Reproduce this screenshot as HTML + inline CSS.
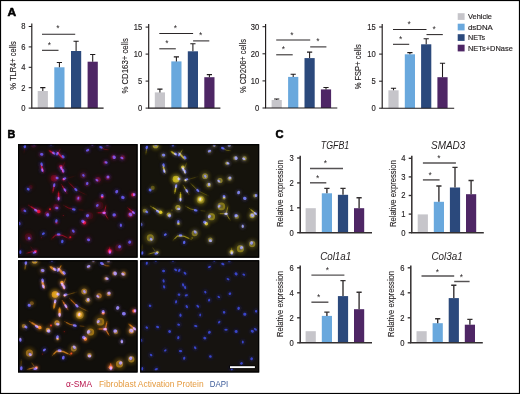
<!DOCTYPE html>
<html><head><meta charset="utf-8"><title>Figure</title>
<style>
html,body{margin:0;padding:0;background:#fff;}
svg{display:block;will-change:transform;opacity:0.999;font-family:"Liberation Sans",sans-serif;}
</style></head><body>
<svg width="520" height="394" viewBox="0 0 520 394">
<defs>
<filter id="bS" x="-10%" y="-10%" width="120%" height="120%"><feGaussianBlur stdDeviation="0.75"/></filter>
<filter id="bG" x="-10%" y="-10%" width="120%" height="120%"><feGaussianBlur stdDeviation="1.5"/></filter>
<filter id="bH" x="-10%" y="-10%" width="120%" height="120%"><feGaussianBlur stdDeviation="1.1"/></filter>
<filter id="bN" x="-10%" y="-10%" width="120%" height="120%"><feGaussianBlur stdDeviation="0.42"/></filter>
<clipPath id="cp"><rect x="0" y="0" width="119.0" height="112.5"/></clipPath>
</defs>
<rect x="0" y="0" width="520" height="394" fill="#fff"/>
<text transform="translate(7.4 15.7) scale(1.1 1)" font-size="10.9" font-weight="bold" fill="#000" stroke="#000" stroke-width=".55" stroke-linejoin="round">A</text>
<text transform="translate(7.5 138.1) scale(.98 1)" font-size="11" font-weight="bold" fill="#000" stroke="#000" stroke-width=".55" stroke-linejoin="round">B</text>
<text transform="translate(275.5 138.0) scale(1.02 1)" font-size="10.9" font-weight="bold" fill="#000" stroke="#000" stroke-width=".55" stroke-linejoin="round">C</text>
<rect x="37.7" y="91.0" width="10.2" height="17.1" fill="#c6c5ca"/>
<path d="M42.8 91.0V87.6M40.2 87.6H45.4" stroke="#1f1b1c" stroke-width="1.06" fill="none"/>
<rect x="54.3" y="67.3" width="10.2" height="40.8" fill="#69a8dd"/>
<path d="M59.4 67.3V62.5M56.8 62.5H62.0" stroke="#1f1b1c" stroke-width="1.06" fill="none"/>
<rect x="71.0" y="51.0" width="10.2" height="57.1" fill="#2b497c"/>
<path d="M76.1 51.0V41.2M73.5 41.2H78.7" stroke="#1f1b1c" stroke-width="1.06" fill="none"/>
<rect x="87.6" y="61.7" width="10.2" height="46.4" fill="#4e2665"/>
<path d="M92.7 61.7V54.5M90.1 54.5H95.3" stroke="#1f1b1c" stroke-width="1.06" fill="none"/>
<path d="M31.8 23.6V108.1H103.6" stroke="#1f1b1c" stroke-width="1.15" fill="none"/>
<path d="M28.7 26.5H31.8" stroke="#1f1b1c" stroke-width="1.03" fill="none"/>
<text transform="translate(25.4 29.4) scale(.92 1)" font-size="8.3" text-anchor="end" fill="#231f20" stroke="#231f20" stroke-width=".15">8</text>
<path d="M28.7 46.9H31.8" stroke="#1f1b1c" stroke-width="1.03" fill="none"/>
<text transform="translate(25.4 49.9) scale(.92 1)" font-size="8.3" text-anchor="end" fill="#231f20" stroke="#231f20" stroke-width=".15">6</text>
<path d="M28.7 67.3H31.8" stroke="#1f1b1c" stroke-width="1.03" fill="none"/>
<text transform="translate(25.4 70.2) scale(.92 1)" font-size="8.3" text-anchor="end" fill="#231f20" stroke="#231f20" stroke-width=".15">4</text>
<path d="M28.7 87.7H31.8" stroke="#1f1b1c" stroke-width="1.03" fill="none"/>
<text transform="translate(25.4 90.6) scale(.92 1)" font-size="8.3" text-anchor="end" fill="#231f20" stroke="#231f20" stroke-width=".15">2</text>
<path d="M28.7 108.1H31.8" stroke="#1f1b1c" stroke-width="1.03" fill="none"/>
<text transform="translate(25.4 111.0) scale(.92 1)" font-size="8.3" text-anchor="end" fill="#231f20" stroke="#231f20" stroke-width=".15">0</text>
<path d="M42.0 34.3H75.2" stroke="#2b2728" stroke-width="1.05" fill="none"/>
<text x="57.9" y="31.4" font-size="8.4" text-anchor="middle" fill="#231f20">*</text>
<path d="M42.0 50.3H58.5" stroke="#2b2728" stroke-width="1.05" fill="none"/>
<text x="49.3" y="48.0" font-size="8.4" text-anchor="middle" fill="#231f20">*</text>
<text transform="translate(16.1 65.5) rotate(-90)" font-size="9.5" text-anchor="middle" textLength="48.5" lengthAdjust="spacingAndGlyphs" fill="#231f20" stroke="#231f20" stroke-width=".12">% TLR4+ cells</text>
<rect x="154.8" y="92.4" width="10.2" height="15.7" fill="#c6c5ca"/>
<path d="M159.9 92.4V89.1M157.3 89.1H162.5" stroke="#1f1b1c" stroke-width="1.06" fill="none"/>
<rect x="171.3" y="61.4" width="10.2" height="46.7" fill="#69a8dd"/>
<path d="M176.4 61.4V56.9M173.8 56.9H179.0" stroke="#1f1b1c" stroke-width="1.06" fill="none"/>
<rect x="187.8" y="51.3" width="10.2" height="56.8" fill="#2b497c"/>
<path d="M192.9 51.3V43.7M190.3 43.7H195.5" stroke="#1f1b1c" stroke-width="1.06" fill="none"/>
<rect x="204.3" y="77.2" width="10.2" height="30.9" fill="#4e2665"/>
<path d="M209.4 77.2V74.6M206.8 74.6H212.0" stroke="#1f1b1c" stroke-width="1.06" fill="none"/>
<path d="M148.7 24.0V108.1H220.4" stroke="#1f1b1c" stroke-width="1.15" fill="none"/>
<path d="M145.6 27.1H148.7" stroke="#1f1b1c" stroke-width="1.03" fill="none"/>
<text transform="translate(142.3 30.0) scale(.92 1)" font-size="8.3" text-anchor="end" fill="#231f20" stroke="#231f20" stroke-width=".15">15</text>
<path d="M145.6 54.1H148.7" stroke="#1f1b1c" stroke-width="1.03" fill="none"/>
<text transform="translate(142.3 57.0) scale(.92 1)" font-size="8.3" text-anchor="end" fill="#231f20" stroke="#231f20" stroke-width=".15">10</text>
<path d="M145.6 81.1H148.7" stroke="#1f1b1c" stroke-width="1.03" fill="none"/>
<text transform="translate(142.3 84.0) scale(.92 1)" font-size="8.3" text-anchor="end" fill="#231f20" stroke="#231f20" stroke-width=".15">5</text>
<path d="M145.6 108.1H148.7" stroke="#1f1b1c" stroke-width="1.03" fill="none"/>
<text transform="translate(142.3 111.0) scale(.92 1)" font-size="8.3" text-anchor="end" fill="#231f20" stroke="#231f20" stroke-width=".15">0</text>
<path d="M159.3 33.5H193.1" stroke="#2b2728" stroke-width="1.05" fill="none"/>
<text x="175.3" y="31.1" font-size="8.4" text-anchor="middle" fill="#231f20">*</text>
<path d="M159.3 48.8H175.8" stroke="#2b2728" stroke-width="1.05" fill="none"/>
<text x="167.0" y="45.9" font-size="8.4" text-anchor="middle" fill="#231f20">*</text>
<path d="M193.1 40.9H209.3" stroke="#2b2728" stroke-width="1.05" fill="none"/>
<text x="200.7" y="38.2" font-size="8.4" text-anchor="middle" fill="#231f20">*</text>
<text transform="translate(128.4 65.8) rotate(-90)" font-size="9.5" text-anchor="middle" textLength="55.6" lengthAdjust="spacingAndGlyphs" fill="#231f20" stroke="#231f20" stroke-width=".12">% CD163+ cells</text>
<rect x="271.6" y="100.0" width="10.2" height="8.0" fill="#c6c5ca"/>
<path d="M276.7 100.0V99.0M274.1 99.0H279.3" stroke="#1f1b1c" stroke-width="1.06" fill="none"/>
<rect x="288.1" y="76.9" width="10.2" height="31.1" fill="#69a8dd"/>
<path d="M293.2 76.9V74.3M290.6 74.3H295.8" stroke="#1f1b1c" stroke-width="1.06" fill="none"/>
<rect x="304.5" y="58.1" width="10.2" height="49.9" fill="#2b497c"/>
<path d="M309.6 58.1V52.1M307.0 52.1H312.2" stroke="#1f1b1c" stroke-width="1.06" fill="none"/>
<rect x="320.9" y="89.4" width="10.2" height="18.6" fill="#4e2665"/>
<path d="M326.0 89.4V87.5M323.4 87.5H328.6" stroke="#1f1b1c" stroke-width="1.06" fill="none"/>
<path d="M265.6 24.0V108.0H337.3" stroke="#1f1b1c" stroke-width="1.15" fill="none"/>
<path d="M262.5 26.7H265.6" stroke="#1f1b1c" stroke-width="1.03" fill="none"/>
<text transform="translate(259.2 29.7) scale(.92 1)" font-size="8.3" text-anchor="end" fill="#231f20" stroke="#231f20" stroke-width=".15">30</text>
<path d="M262.5 53.8H265.6" stroke="#1f1b1c" stroke-width="1.03" fill="none"/>
<text transform="translate(259.2 56.8) scale(.92 1)" font-size="8.3" text-anchor="end" fill="#231f20" stroke="#231f20" stroke-width=".15">20</text>
<path d="M262.5 80.9H265.6" stroke="#1f1b1c" stroke-width="1.03" fill="none"/>
<text transform="translate(259.2 83.9) scale(.92 1)" font-size="8.3" text-anchor="end" fill="#231f20" stroke="#231f20" stroke-width=".15">10</text>
<path d="M262.5 108.0H265.6" stroke="#1f1b1c" stroke-width="1.03" fill="none"/>
<text transform="translate(259.2 111.0) scale(.92 1)" font-size="8.3" text-anchor="end" fill="#231f20" stroke="#231f20" stroke-width=".15">0</text>
<path d="M276.2 39.9H310.2" stroke="#2b2728" stroke-width="1.05" fill="none"/>
<text x="292.0" y="37.5" font-size="8.4" text-anchor="middle" fill="#231f20">*</text>
<path d="M276.2 54.8H292.7" stroke="#2b2728" stroke-width="1.05" fill="none"/>
<text x="283.5" y="52.2" font-size="8.4" text-anchor="middle" fill="#231f20">*</text>
<path d="M310.2 46.9H326.4" stroke="#2b2728" stroke-width="1.05" fill="none"/>
<text x="317.8" y="44.4" font-size="8.4" text-anchor="middle" fill="#231f20">*</text>
<text transform="translate(245.5 66.0) rotate(-90)" font-size="9.5" text-anchor="middle" textLength="54" lengthAdjust="spacingAndGlyphs" fill="#231f20" stroke="#231f20" stroke-width=".12">% CD206+ cells</text>
<rect x="388.4" y="90.3" width="10.2" height="17.9" fill="#c6c5ca"/>
<path d="M393.5 90.3V88.3M390.9 88.3H396.1" stroke="#1f1b1c" stroke-width="1.06" fill="none"/>
<rect x="404.8" y="54.3" width="10.2" height="53.9" fill="#69a8dd"/>
<path d="M409.9 54.3V52.6M407.3 52.6H412.5" stroke="#1f1b1c" stroke-width="1.06" fill="none"/>
<rect x="421.1" y="44.3" width="10.2" height="63.9" fill="#2b497c"/>
<path d="M426.2 44.3V38.8M423.6 38.8H428.8" stroke="#1f1b1c" stroke-width="1.06" fill="none"/>
<rect x="437.4" y="77.2" width="10.2" height="31.0" fill="#4e2665"/>
<path d="M442.5 77.2V63.3M439.9 63.3H445.1" stroke="#1f1b1c" stroke-width="1.06" fill="none"/>
<path d="M382.2 24.0V108.2H454.2" stroke="#1f1b1c" stroke-width="1.15" fill="none"/>
<path d="M379.1 27.0H382.2" stroke="#1f1b1c" stroke-width="1.03" fill="none"/>
<text transform="translate(375.8 30.0) scale(.92 1)" font-size="8.3" text-anchor="end" fill="#231f20" stroke="#231f20" stroke-width=".15">15</text>
<path d="M379.1 54.1H382.2" stroke="#1f1b1c" stroke-width="1.03" fill="none"/>
<text transform="translate(375.8 57.1) scale(.92 1)" font-size="8.3" text-anchor="end" fill="#231f20" stroke="#231f20" stroke-width=".15">10</text>
<path d="M379.1 81.2H382.2" stroke="#1f1b1c" stroke-width="1.03" fill="none"/>
<text transform="translate(375.8 84.1) scale(.92 1)" font-size="8.3" text-anchor="end" fill="#231f20" stroke="#231f20" stroke-width=".15">5</text>
<path d="M379.1 108.2H382.2" stroke="#1f1b1c" stroke-width="1.03" fill="none"/>
<text transform="translate(375.8 111.2) scale(.92 1)" font-size="8.3" text-anchor="end" fill="#231f20" stroke="#231f20" stroke-width=".15">0</text>
<path d="M393.0 29.4H426.5" stroke="#2b2728" stroke-width="1.05" fill="none"/>
<text x="409.2" y="27.2" font-size="8.4" text-anchor="middle" fill="#231f20">*</text>
<path d="M393.0 44.3H409.2" stroke="#2b2728" stroke-width="1.05" fill="none"/>
<text x="400.6" y="41.8" font-size="8.4" text-anchor="middle" fill="#231f20">*</text>
<path d="M426.5 34.6H442.8" stroke="#2b2728" stroke-width="1.05" fill="none"/>
<text x="434.1" y="31.8" font-size="8.4" text-anchor="middle" fill="#231f20">*</text>
<text transform="translate(361.2 66.8) rotate(-90)" font-size="9.5" text-anchor="middle" textLength="45" lengthAdjust="spacingAndGlyphs" fill="#231f20" stroke="#231f20" stroke-width=".12">% FSP+ cells</text>
<rect x="305.6" y="208.2" width="10.2" height="24.5" fill="#c6c5ca"/>
<rect x="321.8" y="193.3" width="10.2" height="39.4" fill="#69a8dd"/>
<path d="M326.9 193.3V188.4M324.3 188.4H329.5" stroke="#343031" stroke-width="1.38" fill="none"/>
<rect x="337.9" y="194.8" width="10.2" height="37.9" fill="#2b497c"/>
<path d="M343.0 194.8V188.4M340.4 188.4H345.6" stroke="#343031" stroke-width="1.38" fill="none"/>
<rect x="354.0" y="208.2" width="10.2" height="24.5" fill="#4e2665"/>
<path d="M359.1 208.2V197.7M356.5 197.7H361.7" stroke="#343031" stroke-width="1.38" fill="none"/>
<path d="M300.2 155.7V232.7H372.0" stroke="#343031" stroke-width="1.5" fill="none"/>
<path d="M297.1 158.0H300.2" stroke="#343031" stroke-width="1.35" fill="none"/>
<text transform="translate(293.8 160.9) scale(.92 1)" font-size="8.3" text-anchor="end" fill="#231f20" stroke="#231f20" stroke-width=".15">3</text>
<path d="M297.1 182.9H300.2" stroke="#343031" stroke-width="1.35" fill="none"/>
<text transform="translate(293.8 185.8) scale(.92 1)" font-size="8.3" text-anchor="end" fill="#231f20" stroke="#231f20" stroke-width=".15">2</text>
<path d="M297.1 207.8H300.2" stroke="#343031" stroke-width="1.35" fill="none"/>
<text transform="translate(293.8 210.7) scale(.92 1)" font-size="8.3" text-anchor="end" fill="#231f20" stroke="#231f20" stroke-width=".15">1</text>
<path d="M297.1 232.7H300.2" stroke="#343031" stroke-width="1.35" fill="none"/>
<text transform="translate(293.8 235.6) scale(.92 1)" font-size="8.3" text-anchor="end" fill="#231f20" stroke="#231f20" stroke-width=".15">0</text>
<path d="M310.0 168.5H343.0" stroke="#555253" stroke-width="1.45" fill="none"/>
<text x="325.4" y="166.2" font-size="8.4" text-anchor="middle" fill="#231f20">*</text>
<path d="M310.0 182.8H326.3" stroke="#555253" stroke-width="1.45" fill="none"/>
<text x="317.6" y="180.6" font-size="8.4" text-anchor="middle" fill="#231f20">*</text>
<text transform="translate(283.2 193.6) rotate(-90)" font-size="9.1" text-anchor="middle" textLength="67" lengthAdjust="spacingAndGlyphs" fill="#231f20" stroke="#231f20" stroke-width=".12">Relative expression</text>
<text x="335.0" y="149.1" font-size="10" font-style="italic" text-anchor="middle" textLength="28.5" lengthAdjust="spacingAndGlyphs" fill="#231f20">TGFB1</text>
<rect x="417.7" y="214.4" width="10.2" height="18.3" fill="#c6c5ca"/>
<rect x="433.8" y="201.8" width="10.2" height="30.9" fill="#69a8dd"/>
<path d="M438.9 201.8V186.0M436.3 186.0H441.5" stroke="#343031" stroke-width="1.38" fill="none"/>
<rect x="449.9" y="187.5" width="10.2" height="45.2" fill="#2b497c"/>
<path d="M455.0 187.5V167.4M452.4 167.4H457.6" stroke="#343031" stroke-width="1.38" fill="none"/>
<rect x="466.0" y="194.2" width="10.2" height="38.5" fill="#4e2665"/>
<path d="M471.1 194.2V180.5M468.5 180.5H473.7" stroke="#343031" stroke-width="1.38" fill="none"/>
<path d="M411.8 155.7V232.7H483.8" stroke="#343031" stroke-width="1.5" fill="none"/>
<path d="M408.7 158.3H411.8" stroke="#343031" stroke-width="1.35" fill="none"/>
<text transform="translate(405.4 161.2) scale(.92 1)" font-size="8.3" text-anchor="end" fill="#231f20" stroke="#231f20" stroke-width=".15">4</text>
<path d="M408.7 176.9H411.8" stroke="#343031" stroke-width="1.35" fill="none"/>
<text transform="translate(405.4 179.8) scale(.92 1)" font-size="8.3" text-anchor="end" fill="#231f20" stroke="#231f20" stroke-width=".15">3</text>
<path d="M408.7 195.5H411.8" stroke="#343031" stroke-width="1.35" fill="none"/>
<text transform="translate(405.4 198.4) scale(.92 1)" font-size="8.3" text-anchor="end" fill="#231f20" stroke="#231f20" stroke-width=".15">2</text>
<path d="M408.7 214.1H411.8" stroke="#343031" stroke-width="1.35" fill="none"/>
<text transform="translate(405.4 217.0) scale(.92 1)" font-size="8.3" text-anchor="end" fill="#231f20" stroke="#231f20" stroke-width=".15">1</text>
<path d="M408.7 232.7H411.8" stroke="#343031" stroke-width="1.35" fill="none"/>
<text transform="translate(405.4 235.6) scale(.92 1)" font-size="8.3" text-anchor="end" fill="#231f20" stroke="#231f20" stroke-width=".15">0</text>
<path d="M422.9 163.0H455.9" stroke="#555253" stroke-width="1.45" fill="none"/>
<text x="439.0" y="161.1" font-size="8.4" text-anchor="middle" fill="#231f20">*</text>
<path d="M422.9 179.9H439.6" stroke="#555253" stroke-width="1.45" fill="none"/>
<text x="430.2" y="177.7" font-size="8.4" text-anchor="middle" fill="#231f20">*</text>
<text transform="translate(395.8 193.6) rotate(-90)" font-size="9.1" text-anchor="middle" textLength="67" lengthAdjust="spacingAndGlyphs" fill="#231f20" stroke="#231f20" stroke-width=".12">Relative expression</text>
<text x="448.2" y="149.1" font-size="10" font-style="italic" text-anchor="middle" textLength="34.3" lengthAdjust="spacingAndGlyphs" fill="#231f20">SMAD3</text>
<rect x="305.6" y="331.2" width="10.2" height="11.6" fill="#c6c5ca"/>
<rect x="321.8" y="315.9" width="10.2" height="26.9" fill="#69a8dd"/>
<path d="M326.9 315.9V312.1M324.3 312.1H329.5" stroke="#343031" stroke-width="1.38" fill="none"/>
<rect x="337.9" y="296.1" width="10.2" height="46.7" fill="#2b497c"/>
<path d="M343.0 296.1V280.6M340.4 280.6H345.6" stroke="#343031" stroke-width="1.38" fill="none"/>
<rect x="354.0" y="309.2" width="10.2" height="33.6" fill="#4e2665"/>
<path d="M359.1 309.2V292.3M356.5 292.3H361.7" stroke="#343031" stroke-width="1.38" fill="none"/>
<path d="M300.2 265.4V342.8H372.0" stroke="#343031" stroke-width="1.5" fill="none"/>
<path d="M297.1 267.8H300.2" stroke="#343031" stroke-width="1.35" fill="none"/>
<text transform="translate(293.8 270.8) scale(.92 1)" font-size="8.3" text-anchor="end" fill="#231f20" stroke="#231f20" stroke-width=".15">6</text>
<path d="M297.1 292.8H300.2" stroke="#343031" stroke-width="1.35" fill="none"/>
<text transform="translate(293.8 295.8) scale(.92 1)" font-size="8.3" text-anchor="end" fill="#231f20" stroke="#231f20" stroke-width=".15">4</text>
<path d="M297.1 317.8H300.2" stroke="#343031" stroke-width="1.35" fill="none"/>
<text transform="translate(293.8 320.8) scale(.92 1)" font-size="8.3" text-anchor="end" fill="#231f20" stroke="#231f20" stroke-width=".15">2</text>
<path d="M297.1 342.8H300.2" stroke="#343031" stroke-width="1.35" fill="none"/>
<text transform="translate(293.8 345.8) scale(.92 1)" font-size="8.3" text-anchor="end" fill="#231f20" stroke="#231f20" stroke-width=".15">0</text>
<path d="M311.4 275.1H344.4" stroke="#555253" stroke-width="1.45" fill="none"/>
<text x="327.5" y="273.1" font-size="8.4" text-anchor="middle" fill="#231f20">*</text>
<path d="M311.4 302.2H328.4" stroke="#555253" stroke-width="1.45" fill="none"/>
<text x="318.7" y="299.9" font-size="8.4" text-anchor="middle" fill="#231f20">*</text>
<text transform="translate(283.2 304.0) rotate(-90)" font-size="9.1" text-anchor="middle" textLength="66" lengthAdjust="spacingAndGlyphs" fill="#231f20" stroke="#231f20" stroke-width=".12">Relative expression</text>
<text x="335.7" y="260.0" font-size="10" font-style="italic" text-anchor="middle" textLength="31.1" lengthAdjust="spacingAndGlyphs" fill="#231f20">Col1a1</text>
<rect x="416.5" y="331.2" width="10.2" height="11.6" fill="#c6c5ca"/>
<rect x="432.6" y="323.2" width="10.2" height="19.6" fill="#69a8dd"/>
<path d="M437.7 323.2V318.8M435.1 318.8H440.3" stroke="#343031" stroke-width="1.38" fill="none"/>
<rect x="448.7" y="298.1" width="10.2" height="44.7" fill="#2b497c"/>
<path d="M453.8 298.1V285.3M451.2 285.3H456.4" stroke="#343031" stroke-width="1.38" fill="none"/>
<rect x="464.8" y="324.7" width="10.2" height="18.1" fill="#4e2665"/>
<path d="M469.9 324.7V319.4M467.3 319.4H472.5" stroke="#343031" stroke-width="1.38" fill="none"/>
<path d="M410.8 265.4V342.8H482.8" stroke="#343031" stroke-width="1.5" fill="none"/>
<path d="M407.7 267.8H410.8" stroke="#343031" stroke-width="1.35" fill="none"/>
<text transform="translate(404.4 270.8) scale(.92 1)" font-size="8.3" text-anchor="end" fill="#231f20" stroke="#231f20" stroke-width=".15">6</text>
<path d="M407.7 292.8H410.8" stroke="#343031" stroke-width="1.35" fill="none"/>
<text transform="translate(404.4 295.8) scale(.92 1)" font-size="8.3" text-anchor="end" fill="#231f20" stroke="#231f20" stroke-width=".15">4</text>
<path d="M407.7 317.8H410.8" stroke="#343031" stroke-width="1.35" fill="none"/>
<text transform="translate(404.4 320.8) scale(.92 1)" font-size="8.3" text-anchor="end" fill="#231f20" stroke="#231f20" stroke-width=".15">2</text>
<path d="M407.7 342.8H410.8" stroke="#343031" stroke-width="1.35" fill="none"/>
<text transform="translate(404.4 345.8) scale(.92 1)" font-size="8.3" text-anchor="end" fill="#231f20" stroke="#231f20" stroke-width=".15">0</text>
<path d="M421.5 275.9H454.2" stroke="#555253" stroke-width="1.45" fill="none"/>
<text x="437.5" y="274.6" font-size="8.4" text-anchor="middle" fill="#231f20">*</text>
<path d="M454.2 281.5H469.6" stroke="#555253" stroke-width="1.45" fill="none"/>
<text x="461.5" y="279.6" font-size="8.4" text-anchor="middle" fill="#231f20">*</text>
<text transform="translate(394.0 304.0) rotate(-90)" font-size="9.1" text-anchor="middle" textLength="66" lengthAdjust="spacingAndGlyphs" fill="#231f20" stroke="#231f20" stroke-width=".12">Relative expression</text>
<text x="447.1" y="260.0" font-size="10" font-style="italic" text-anchor="middle" textLength="31.2" lengthAdjust="spacingAndGlyphs" fill="#231f20">Col3a1</text>
<rect x="457.7" y="13.2" width="6.9" height="6.7" fill="#c6c5ca"/>
<text x="468" y="19.2" font-size="8" textLength="24" lengthAdjust="spacingAndGlyphs" fill="#231f20" stroke="#231f20" stroke-width=".18">Vehicle</text>
<rect x="457.7" y="23.7" width="6.9" height="6.7" fill="#69a8dd"/>
<text x="468" y="29.7" font-size="8" textLength="24.8" lengthAdjust="spacingAndGlyphs" fill="#231f20" stroke="#231f20" stroke-width=".18">dsDNA</text>
<rect x="457.7" y="34.2" width="6.9" height="6.7" fill="#2b497c"/>
<text x="468" y="40.2" font-size="8" textLength="17.2" lengthAdjust="spacingAndGlyphs" fill="#231f20" stroke="#231f20" stroke-width=".18">NETs</text>
<rect x="457.7" y="44.7" width="6.9" height="6.7" fill="#4e2665"/>
<text x="468" y="50.7" font-size="8" textLength="44.8" lengthAdjust="spacingAndGlyphs" fill="#231f20" stroke="#231f20" stroke-width=".18">NETs+DNase</text>
<clipPath id="c1"><rect x="0" y="0" width="119.6" height="113.6"/></clipPath><g transform="translate(18.0 144.1)"><rect x="0" y="0" width="119.6" height="113.6" fill="#15100e"/><g clip-path="url(#c1)"><g transform="translate(0.1 -0.6)"><g filter="url(#bH)"><circle cx="6.8" cy="3.0" r="3.1" fill="#2a2a9a" fill-opacity="0.32"/><circle cx="15.6" cy="0.5" r="3.1" fill="#2a2a9a" fill-opacity="0.32"/><circle cx="33.0" cy="0.5" r="3.1" fill="#2a2a9a" fill-opacity="0.32"/><circle cx="23.6" cy="10.8" r="3.1" fill="#2a2a9a" fill-opacity="0.32"/><circle cx="35.7" cy="9.6" r="3.1" fill="#2a2a9a" fill-opacity="0.32"/><circle cx="39.2" cy="10.2" r="3.1" fill="#2a2a9a" fill-opacity="0.32"/><circle cx="45.0" cy="13.1" r="3.1" fill="#2a2a9a" fill-opacity="0.32"/><circle cx="23.6" cy="20.8" r="3.1" fill="#2a2a9a" fill-opacity="0.32"/><circle cx="24.1" cy="26.7" r="3.1" fill="#2a2a9a" fill-opacity="0.32"/><circle cx="43.1" cy="24.7" r="3.1" fill="#2a2a9a" fill-opacity="0.32"/><circle cx="45.1" cy="27.3" r="3.1" fill="#2a2a9a" fill-opacity="0.32"/><circle cx="39.0" cy="34.5" r="3.1" fill="#2a2a9a" fill-opacity="0.32"/><circle cx="46.4" cy="35.1" r="3.1" fill="#2a2a9a" fill-opacity="0.32"/><circle cx="36.1" cy="41.7" r="3.1" fill="#2a2a9a" fill-opacity="0.32"/><circle cx="10.1" cy="45.6" r="3.1" fill="#2a2a9a" fill-opacity="0.32"/><circle cx="46.8" cy="46.4" r="3.1" fill="#2a2a9a" fill-opacity="0.32"/><circle cx="57.8" cy="46.1" r="3.1" fill="#2a2a9a" fill-opacity="0.32"/><circle cx="40.5" cy="55.1" r="3.1" fill="#2a2a9a" fill-opacity="0.32"/><circle cx="60.2" cy="54.8" r="3.1" fill="#2a2a9a" fill-opacity="0.32"/><circle cx="74.2" cy="0.5" r="3.1" fill="#2a2a9a" fill-opacity="0.32"/><circle cx="89.3" cy="1.0" r="3.1" fill="#2a2a9a" fill-opacity="0.32"/><circle cx="82.8" cy="3.8" r="3.1" fill="#2a2a9a" fill-opacity="0.32"/><circle cx="69.5" cy="6.7" r="3.1" fill="#2a2a9a" fill-opacity="0.32"/><circle cx="96.1" cy="13.7" r="3.1" fill="#2a2a9a" fill-opacity="0.32"/><circle cx="103.8" cy="14.4" r="3.1" fill="#2a2a9a" fill-opacity="0.32"/><circle cx="88.0" cy="18.9" r="3.1" fill="#2a2a9a" fill-opacity="0.32"/><circle cx="65.3" cy="31.9" r="3.1" fill="#2a2a9a" fill-opacity="0.32"/><circle cx="89.9" cy="33.5" r="3.1" fill="#2a2a9a" fill-opacity="0.32"/><circle cx="78.8" cy="36.7" r="3.1" fill="#2a2a9a" fill-opacity="0.32"/><circle cx="69.1" cy="40.0" r="3.1" fill="#2a2a9a" fill-opacity="0.32"/><circle cx="98.6" cy="48.2" r="3.1" fill="#2a2a9a" fill-opacity="0.32"/><circle cx="84.1" cy="52.1" r="3.1" fill="#2a2a9a" fill-opacity="0.32"/><circle cx="116.1" cy="51.1" r="3.1" fill="#2a2a9a" fill-opacity="0.32"/><circle cx="104.8" cy="54.0" r="3.1" fill="#2a2a9a" fill-opacity="0.32"/><circle cx="38.7" cy="64.5" r="3.1" fill="#2a2a9a" fill-opacity="0.32"/><circle cx="6.8" cy="67.4" r="3.1" fill="#2a2a9a" fill-opacity="0.32"/><circle cx="17.6" cy="66.8" r="3.1" fill="#2a2a9a" fill-opacity="0.32"/><circle cx="55.7" cy="65.9" r="3.1" fill="#2a2a9a" fill-opacity="0.32"/><circle cx="29.6" cy="71.3" r="3.1" fill="#2a2a9a" fill-opacity="0.32"/><circle cx="38.3" cy="77.5" r="3.1" fill="#2a2a9a" fill-opacity="0.32"/><circle cx="1.2" cy="80.1" r="3.1" fill="#2a2a9a" fill-opacity="0.32"/><circle cx="55.2" cy="87.6" r="3.1" fill="#2a2a9a" fill-opacity="0.32"/><circle cx="25.3" cy="90.2" r="3.1" fill="#2a2a9a" fill-opacity="0.32"/><circle cx="40.5" cy="90.9" r="3.1" fill="#2a2a9a" fill-opacity="0.32"/><circle cx="11.1" cy="94.8" r="3.1" fill="#2a2a9a" fill-opacity="0.32"/><circle cx="44.2" cy="98.0" r="3.1" fill="#2a2a9a" fill-opacity="0.32"/><circle cx="2.2" cy="108.6" r="3.1" fill="#2a2a9a" fill-opacity="0.32"/><circle cx="16.3" cy="109.0" r="3.1" fill="#2a2a9a" fill-opacity="0.32"/><circle cx="79.2" cy="61.9" r="3.1" fill="#2a2a9a" fill-opacity="0.32"/><circle cx="86.0" cy="69.5" r="3.1" fill="#2a2a9a" fill-opacity="0.32"/><circle cx="96.1" cy="71.3" r="3.1" fill="#2a2a9a" fill-opacity="0.32"/><circle cx="112.3" cy="71.0" r="3.1" fill="#2a2a9a" fill-opacity="0.32"/><circle cx="115.4" cy="69.1" r="3.1" fill="#2a2a9a" fill-opacity="0.32"/><circle cx="69.4" cy="72.1" r="3.1" fill="#2a2a9a" fill-opacity="0.32"/><circle cx="64.8" cy="77.9" r="3.1" fill="#2a2a9a" fill-opacity="0.32"/><circle cx="102.8" cy="81.8" r="3.1" fill="#2a2a9a" fill-opacity="0.32"/><circle cx="70.4" cy="96.3" r="3.1" fill="#2a2a9a" fill-opacity="0.32"/><circle cx="111.6" cy="98.6" r="3.1" fill="#2a2a9a" fill-opacity="0.32"/><circle cx="101.5" cy="103.2" r="3.1" fill="#2a2a9a" fill-opacity="0.32"/><circle cx="91.8" cy="108.6" r="3.1" fill="#2a2a9a" fill-opacity="0.32"/></g><g filter="url(#bN)"><ellipse cx="6.8" cy="3.0" rx="1.86" ry="1.16" transform="rotate(99 6.8 3.0)" fill="#4e52e0" fill-opacity="1.0"/><ellipse cx="15.6" cy="0.5" rx="1.60" ry="1.16" transform="rotate(27 15.6 0.5)" fill="#4e52e0" fill-opacity="1.0"/><ellipse cx="33.0" cy="0.5" rx="1.49" ry="1.27" transform="rotate(117 33.0 0.5)" fill="#4e52e0" fill-opacity="1.0"/><ellipse cx="23.6" cy="10.8" rx="1.68" ry="1.37" transform="rotate(13 23.6 10.8)" fill="#4e52e0" fill-opacity="1.0"/><ellipse cx="35.7" cy="9.6" rx="1.86" ry="1.16" transform="rotate(36 35.7 9.6)" fill="#4e52e0" fill-opacity="1.0"/><ellipse cx="39.2" cy="10.2" rx="1.86" ry="1.16" transform="rotate(120 39.2 10.2)" fill="#4e52e0" fill-opacity="1.0"/><ellipse cx="45.0" cy="13.1" rx="1.86" ry="1.16" transform="rotate(48 45.0 13.1)" fill="#4e52e0" fill-opacity="1.0"/><ellipse cx="23.6" cy="20.8" rx="1.86" ry="1.16" transform="rotate(72 23.6 20.8)" fill="#4e52e0" fill-opacity="1.0"/><ellipse cx="24.1" cy="26.7" rx="1.86" ry="1.16" transform="rotate(72 24.1 26.7)" fill="#4e52e0" fill-opacity="1.0"/><ellipse cx="43.1" cy="24.7" rx="1.86" ry="1.16" transform="rotate(73 43.1 24.7)" fill="#4e52e0" fill-opacity="1.0"/><ellipse cx="45.1" cy="27.3" rx="1.86" ry="1.16" transform="rotate(73 45.1 27.3)" fill="#4e52e0" fill-opacity="1.0"/><ellipse cx="39.0" cy="34.5" rx="1.51" ry="1.29" transform="rotate(16 39.0 34.5)" fill="#4e52e0" fill-opacity="1.0"/><ellipse cx="46.4" cy="35.1" rx="1.86" ry="1.16" transform="rotate(-16 46.4 35.1)" fill="#4e52e0" fill-opacity="1.0"/><ellipse cx="36.1" cy="41.7" rx="1.86" ry="1.16" transform="rotate(100 36.1 41.7)" fill="#4e52e0" fill-opacity="1.0"/><ellipse cx="10.1" cy="45.6" rx="1.47" ry="1.31" transform="rotate(22 10.1 45.6)" fill="#4e52e0" fill-opacity="1.0"/><ellipse cx="46.8" cy="46.4" rx="1.86" ry="1.16" transform="rotate(58 46.8 46.4)" fill="#4e52e0" fill-opacity="1.0"/><ellipse cx="57.8" cy="46.1" rx="1.86" ry="1.16" transform="rotate(45 57.8 46.1)" fill="#4e52e0" fill-opacity="1.0"/><ellipse cx="40.5" cy="55.1" rx="1.86" ry="1.16" transform="rotate(90 40.5 55.1)" fill="#4e52e0" fill-opacity="1.0"/><ellipse cx="60.2" cy="54.8" rx="1.55" ry="0.97" transform="rotate(104 60.2 54.8)" fill="#4e52e0" fill-opacity="1.0"/><ellipse cx="74.2" cy="0.5" rx="1.58" ry="1.22" transform="rotate(71 74.2 0.5)" fill="#4e52e0" fill-opacity="1.0"/><ellipse cx="89.3" cy="1.0" rx="1.59" ry="1.07" transform="rotate(176 89.3 1.0)" fill="#4e52e0" fill-opacity="1.0"/><ellipse cx="82.8" cy="3.8" rx="1.86" ry="1.16" transform="rotate(26 82.8 3.8)" fill="#4e52e0" fill-opacity="1.0"/><ellipse cx="69.5" cy="6.7" rx="1.76" ry="1.13" transform="rotate(155 69.5 6.7)" fill="#4e52e0" fill-opacity="1.0"/><ellipse cx="96.1" cy="13.7" rx="1.81" ry="1.58" transform="rotate(52 96.1 13.7)" fill="#4e52e0" fill-opacity="1.0"/><ellipse cx="103.8" cy="14.4" rx="1.62" ry="1.08" transform="rotate(26 103.8 14.4)" fill="#4e52e0" fill-opacity="1.0"/><ellipse cx="88.0" cy="18.9" rx="1.63" ry="1.14" transform="rotate(21 88.0 18.9)" fill="#4e52e0" fill-opacity="1.0"/><ellipse cx="65.3" cy="31.9" rx="1.49" ry="1.11" transform="rotate(56 65.3 31.9)" fill="#4e52e0" fill-opacity="1.0"/><ellipse cx="89.9" cy="33.5" rx="1.49" ry="1.36" transform="rotate(147 89.9 33.5)" fill="#4e52e0" fill-opacity="1.0"/><ellipse cx="78.8" cy="36.7" rx="1.58" ry="1.02" transform="rotate(33 78.8 36.7)" fill="#4e52e0" fill-opacity="1.0"/><ellipse cx="69.1" cy="40.0" rx="1.55" ry="1.19" transform="rotate(105 69.1 40.0)" fill="#4e52e0" fill-opacity="1.0"/><ellipse cx="98.6" cy="48.2" rx="1.75" ry="1.41" transform="rotate(115 98.6 48.2)" fill="#4e52e0" fill-opacity="1.0"/><ellipse cx="84.1" cy="52.1" rx="1.52" ry="1.38" transform="rotate(67 84.1 52.1)" fill="#4e52e0" fill-opacity="1.0"/><ellipse cx="116.1" cy="51.1" rx="1.47" ry="1.31" transform="rotate(99 116.1 51.1)" fill="#4e52e0" fill-opacity="1.0"/><ellipse cx="104.8" cy="54.0" rx="1.80" ry="1.63" transform="rotate(11 104.8 54.0)" fill="#4e52e0" fill-opacity="1.0"/><ellipse cx="38.7" cy="64.5" rx="1.65" ry="1.17" transform="rotate(11 38.7 64.5)" fill="#4e52e0" fill-opacity="1.0"/><ellipse cx="6.8" cy="67.4" rx="1.51" ry="1.14" transform="rotate(37 6.8 67.4)" fill="#4e52e0" fill-opacity="1.0"/><ellipse cx="17.6" cy="66.8" rx="1.86" ry="1.16" transform="rotate(31 17.6 66.8)" fill="#4e52e0" fill-opacity="1.0"/><ellipse cx="55.7" cy="65.9" rx="1.86" ry="1.16" transform="rotate(12 55.7 65.9)" fill="#4e52e0" fill-opacity="1.0"/><ellipse cx="29.6" cy="71.3" rx="1.65" ry="1.54" transform="rotate(57 29.6 71.3)" fill="#4e52e0" fill-opacity="1.0"/><ellipse cx="38.3" cy="77.5" rx="1.81" ry="1.21" transform="rotate(105 38.3 77.5)" fill="#4e52e0" fill-opacity="1.0"/><ellipse cx="1.2" cy="80.1" rx="1.77" ry="1.20" transform="rotate(82 1.2 80.1)" fill="#4e52e0" fill-opacity="1.0"/><ellipse cx="55.2" cy="87.6" rx="1.71" ry="1.19" transform="rotate(54 55.2 87.6)" fill="#4e52e0" fill-opacity="1.0"/><ellipse cx="25.3" cy="90.2" rx="1.55" ry="1.08" transform="rotate(143 25.3 90.2)" fill="#4e52e0" fill-opacity="1.0"/><ellipse cx="40.5" cy="90.9" rx="1.86" ry="1.16" transform="rotate(3 40.5 90.9)" fill="#4e52e0" fill-opacity="1.0"/><ellipse cx="11.1" cy="94.8" rx="1.52" ry="1.24" transform="rotate(44 11.1 94.8)" fill="#4e52e0" fill-opacity="1.0"/><ellipse cx="44.2" cy="98.0" rx="1.73" ry="1.22" transform="rotate(103 44.2 98.0)" fill="#4e52e0" fill-opacity="1.0"/><ellipse cx="2.2" cy="108.6" rx="1.86" ry="1.16" transform="rotate(93 2.2 108.6)" fill="#4e52e0" fill-opacity="1.0"/><ellipse cx="16.3" cy="109.0" rx="1.86" ry="1.16" transform="rotate(-15 16.3 109.0)" fill="#4e52e0" fill-opacity="1.0"/><ellipse cx="79.2" cy="61.9" rx="1.58" ry="1.17" transform="rotate(131 79.2 61.9)" fill="#4e52e0" fill-opacity="1.0"/><ellipse cx="86.0" cy="69.5" rx="1.86" ry="1.16" transform="rotate(0 86.0 69.5)" fill="#4e52e0" fill-opacity="1.0"/><ellipse cx="96.1" cy="71.3" rx="1.75" ry="1.63" transform="rotate(176 96.1 71.3)" fill="#4e52e0" fill-opacity="1.0"/><ellipse cx="112.3" cy="71.0" rx="1.81" ry="1.53" transform="rotate(21 112.3 71.0)" fill="#4e52e0" fill-opacity="1.0"/><ellipse cx="115.4" cy="69.1" rx="1.86" ry="1.16" transform="rotate(40 115.4 69.1)" fill="#4e52e0" fill-opacity="1.0"/><ellipse cx="69.4" cy="72.1" rx="1.75" ry="1.44" transform="rotate(136 69.4 72.1)" fill="#4e52e0" fill-opacity="1.0"/><ellipse cx="64.8" cy="77.9" rx="1.75" ry="1.48" transform="rotate(27 64.8 77.9)" fill="#4e52e0" fill-opacity="1.0"/><ellipse cx="102.8" cy="81.8" rx="1.72" ry="1.10" transform="rotate(88 102.8 81.8)" fill="#4e52e0" fill-opacity="1.0"/><ellipse cx="70.4" cy="96.3" rx="1.54" ry="1.41" transform="rotate(7 70.4 96.3)" fill="#4e52e0" fill-opacity="1.0"/><ellipse cx="111.6" cy="98.6" rx="1.64" ry="1.44" transform="rotate(120 111.6 98.6)" fill="#4e52e0" fill-opacity="1.0"/><ellipse cx="101.5" cy="103.2" rx="1.58" ry="1.44" transform="rotate(138 101.5 103.2)" fill="#4e52e0" fill-opacity="1.0"/><ellipse cx="91.8" cy="108.6" rx="1.86" ry="1.16" transform="rotate(90 91.8 108.6)" fill="#4e52e0" fill-opacity="1.0"/></g><g style="mix-blend-mode:screen"><g filter="url(#bG)"><path d="M6.8 3.4L5.8 9.9" stroke="#e8122c" stroke-opacity="0.02" stroke-width="1.18" stroke-linecap="round" stroke-linejoin="round" fill="none"/><path d="M6.6 4.8L6.0 8.5" stroke="#e8122c" stroke-opacity="0.03" stroke-width="1.97" stroke-linecap="round" fill="none"/><circle cx="15.6" cy="1.0" r="4.93" fill="#e8122c" fill-opacity="0.05"/><circle cx="23.1" cy="11.1" r="3.94" fill="#e8122c" fill-opacity="0.05"/><path d="M31.1 7.0L36.1 10.6" stroke="#e8122c" stroke-opacity="0.15" stroke-width="1.77" stroke-linecap="round" stroke-linejoin="round" fill="none"/><path d="M32.2 7.8L35.0 9.8" stroke="#e8122c" stroke-opacity="0.20" stroke-width="2.96" stroke-linecap="round" fill="none"/><path d="M38.7 8.2L44.8 15.0" stroke="#e8122c" stroke-opacity="0.17" stroke-width="1.77" stroke-linecap="round" stroke-linejoin="round" fill="none"/><path d="M40.1 9.7L43.5 13.5" stroke="#e8122c" stroke-opacity="0.21" stroke-width="2.96" stroke-linecap="round" fill="none"/><path d="M42.2 5.6L39.8 9.9" stroke="#e8122c" stroke-opacity="0.11" stroke-width="0.89" stroke-linecap="round" stroke-linejoin="round" fill="none"/><path d="M41.7 6.5L40.3 9.0" stroke="#e8122c" stroke-opacity="0.14" stroke-width="1.48" stroke-linecap="round" fill="none"/><path d="M22.8 21.2L25.3 28.7" stroke="#e8122c" stroke-opacity="0.19" stroke-width="1.63" stroke-linecap="round" stroke-linejoin="round" fill="none"/><path d="M23.4 22.9L24.8 27.1" stroke="#e8122c" stroke-opacity="0.24" stroke-width="2.71" stroke-linecap="round" fill="none"/><circle cx="42.8" cy="22.9" r="2.96" fill="#e8122c" fill-opacity="0.24"/><path d="M43.4 23.7L45.1 29.4" stroke="#e8122c" stroke-opacity="0.19" stroke-width="1.63" stroke-linecap="round" stroke-linejoin="round" fill="none"/><path d="M43.8 24.9L44.7 28.2" stroke="#e8122c" stroke-opacity="0.24" stroke-width="2.71" stroke-linecap="round" fill="none"/><path d="M44.8 23.7L46.6 18.3" stroke="#e8122c" stroke-opacity="0.09" stroke-width="0.59" stroke-linecap="round" stroke-linejoin="round" fill="none"/><path d="M45.2 22.5L46.2 19.5" stroke="#e8122c" stroke-opacity="0.11" stroke-width="0.99" stroke-linecap="round" fill="none"/><circle cx="36.0" cy="34.8" r="5.67" fill="#e8122c" fill-opacity="0.13"/><circle cx="36.0" cy="34.8" r="3.45" fill="#e8122c" fill-opacity="0.04"/><path d="M45.5 35.9L57.8 32.3" stroke="#e8122c" stroke-opacity="0.04" stroke-width="0.59" stroke-linecap="round" stroke-linejoin="round" fill="none"/><path d="M48.2 35.1L55.1 33.1" stroke="#e8122c" stroke-opacity="0.06" stroke-width="0.99" stroke-linecap="round" fill="none"/><circle cx="45.5" cy="35.9" r="1.97" fill="#e8122c" fill-opacity="0.36"/><path d="M36.1 41.0L34.7 49.0" stroke="#e8122c" stroke-opacity="0.13" stroke-width="1.48" stroke-linecap="round" stroke-linejoin="round" fill="none"/><path d="M35.8 42.8L35.0 47.2" stroke="#e8122c" stroke-opacity="0.17" stroke-width="2.46" stroke-linecap="round" fill="none"/><circle cx="12.7" cy="43.5" r="3.45" fill="#e8122c" fill-opacity="0.06"/><path d="M43.1 40.7L48.9 50.1" stroke="#e8122c" stroke-opacity="0.15" stroke-width="1.18" stroke-linecap="round" stroke-linejoin="round" fill="none"/><path d="M44.4 42.8L47.6 48.0" stroke="#e8122c" stroke-opacity="0.20" stroke-width="1.97" stroke-linecap="round" fill="none"/><path d="M50.3 38.5L58.6 46.8" stroke="#e8122c" stroke-opacity="0.13" stroke-width="0.89" stroke-linecap="round" stroke-linejoin="round" fill="none"/><path d="M52.1 40.4L56.7 45.0" stroke="#e8122c" stroke-opacity="0.17" stroke-width="1.48" stroke-linecap="round" fill="none"/><path d="M57.8 46.1L63.6 49.2L68.8 51.6" stroke="#e8122c" stroke-opacity="0.07" stroke-width="0.59" stroke-linecap="round" stroke-linejoin="round" fill="none"/><path d="M60.1 47.3L63.6 49.2L66.7 50.6" stroke="#e8122c" stroke-opacity="0.08" stroke-width="0.99" stroke-linecap="round" stroke-linejoin="round" fill="none"/><path d="M40.5 48.2L40.5 56.8" stroke="#e8122c" stroke-opacity="0.18" stroke-width="1.77" stroke-linecap="round" stroke-linejoin="round" fill="none"/><path d="M40.5 50.1L40.5 54.9" stroke="#e8122c" stroke-opacity="0.22" stroke-width="2.96" stroke-linecap="round" fill="none"/><circle cx="60.7" cy="55.3" r="6.65" fill="#e8122c" fill-opacity="0.02"/><circle cx="60.4" cy="55.0" r="4.19" fill="#e8122c" fill-opacity="0.12"/><circle cx="74.2" cy="1.0" r="2.96" fill="#e8122c" fill-opacity="0.04"/><circle cx="89.3" cy="1.2" r="2.96" fill="#e8122c" fill-opacity="0.06"/><path d="M83.1 4.1L86.7 5.9L90.6 6.3" stroke="#e8122c" stroke-opacity="0.09" stroke-width="0.89" stroke-linecap="round" stroke-linejoin="round" fill="none"/><path d="M84.6 4.8L86.7 5.9L89.1 6.1" stroke="#e8122c" stroke-opacity="0.11" stroke-width="1.48" stroke-linecap="round" stroke-linejoin="round" fill="none"/><circle cx="69.5" cy="7.0" r="3.20" fill="#e8122c" fill-opacity="0.04"/><circle cx="95.3" cy="13.7" r="3.70" fill="#e8122c" fill-opacity="0.12"/><circle cx="104.5" cy="14.0" r="3.70" fill="#e8122c" fill-opacity="0.12"/><circle cx="87.0" cy="18.9" r="2.96" fill="#e8122c" fill-opacity="0.12"/><circle cx="65.1" cy="31.8" r="4.93" fill="#e8122c" fill-opacity="0.06"/><circle cx="89.6" cy="34.2" r="3.70" fill="#e8122c" fill-opacity="0.12"/><circle cx="80.0" cy="36.1" r="4.43" fill="#e8122c" fill-opacity="0.12"/><circle cx="68.7" cy="40.6" r="3.94" fill="#e8122c" fill-opacity="0.06"/><circle cx="98.6" cy="48.2" r="2.96" fill="#e8122c" fill-opacity="0.04"/><circle cx="84.1" cy="53.6" r="2.46" fill="#e8122c" fill-opacity="0.32"/><circle cx="114.9" cy="51.3" r="2.96" fill="#e8122c" fill-opacity="0.32"/><circle cx="104.8" cy="54.0" r="2.71" fill="#e8122c" fill-opacity="0.04"/><circle cx="37.9" cy="63.2" r="4.43" fill="#e8122c" fill-opacity="0.10"/><circle cx="4.7" cy="66.4" r="3.45" fill="#e8122c" fill-opacity="0.06"/><path d="M10.3 61.7L17.6 66.1L22.1 68.7" stroke="#e8122c" stroke-opacity="0.15" stroke-width="1.33" stroke-linecap="round" stroke-linejoin="round" fill="none"/><path d="M13.2 63.4L17.6 66.1L20.3 67.7" stroke="#e8122c" stroke-opacity="0.20" stroke-width="2.22" stroke-linecap="round" stroke-linejoin="round" fill="none"/><circle cx="20.6" cy="67.9" r="2.96" fill="#e8122c" fill-opacity="0.38"/><path d="M45.3 61.7L50.7 64.6L56.2 65.8" stroke="#e8122c" stroke-opacity="0.11" stroke-width="0.89" stroke-linecap="round" stroke-linejoin="round" fill="none"/><path d="M47.5 62.9L50.7 64.6L54.0 65.3" stroke="#e8122c" stroke-opacity="0.14" stroke-width="1.48" stroke-linecap="round" stroke-linejoin="round" fill="none"/><circle cx="28.8" cy="70.2" r="3.70" fill="#e8122c" fill-opacity="0.12"/><circle cx="31.9" cy="65.8" r="1.72" fill="#e8122c" fill-opacity="0.38"/><circle cx="38.5" cy="79.3" r="2.22" fill="#e8122c" fill-opacity="0.16"/><circle cx="0.7" cy="79.3" r="2.46" fill="#e8122c" fill-opacity="0.04"/><circle cx="54.7" cy="88.9" r="5.17" fill="#e8122c" fill-opacity="0.04"/><path d="M33.1 95.8L37.5 91.5L44.1 91.8L51.5 95.2" stroke="#e8122c" stroke-opacity="0.13" stroke-width="1.03" stroke-linecap="round" stroke-linejoin="round" fill="none"/><path d="M34.9 94.1L37.5 91.5L44.1 91.8L48.5 93.9" stroke="#e8122c" stroke-opacity="0.17" stroke-width="1.72" stroke-linecap="round" stroke-linejoin="round" fill="none"/><circle cx="52.2" cy="93.7" r="1.72" fill="#e8122c" fill-opacity="0.38"/><circle cx="10.3" cy="93.4" r="6.16" fill="#e8122c" fill-opacity="0.08"/><path d="M2.2 99.9L1.8 107.3" stroke="#e8122c" stroke-opacity="0.02" stroke-width="0.74" stroke-linecap="round" stroke-linejoin="round" fill="none"/><path d="M2.1 101.5L1.9 105.7" stroke="#e8122c" stroke-opacity="0.03" stroke-width="1.23" stroke-linecap="round" fill="none"/><path d="M8.1 109.8L16.2 107.6" stroke="#e8122c" stroke-opacity="0.13" stroke-width="0.89" stroke-linecap="round" stroke-linejoin="round" fill="none"/><path d="M9.9 109.3L14.4 108.1" stroke="#e8122c" stroke-opacity="0.17" stroke-width="1.48" stroke-linecap="round" fill="none"/><path d="M12.5 102.9L15.4 107.3" stroke="#e8122c" stroke-opacity="0.07" stroke-width="0.59" stroke-linecap="round" stroke-linejoin="round" fill="none"/><path d="M13.1 103.8L14.8 106.3" stroke="#e8122c" stroke-opacity="0.08" stroke-width="0.99" stroke-linecap="round" fill="none"/><circle cx="17.4" cy="107.9" r="2.22" fill="#e8122c" fill-opacity="0.38"/><circle cx="45.1" cy="72.0" r="0.74" fill="#e8122c" fill-opacity="0.32"/><circle cx="23.5" cy="94.3" r="0.74" fill="#e8122c" fill-opacity="0.28"/><circle cx="81.3" cy="62.0" r="6.65" fill="#e8122c" fill-opacity="0.06"/><path d="M87.9 61.7L86.2 69.3" stroke="#e8122c" stroke-opacity="0.15" stroke-width="0.89" stroke-linecap="round" stroke-linejoin="round" fill="none"/><path d="M87.6 63.4L86.6 67.6" stroke="#e8122c" stroke-opacity="0.20" stroke-width="1.48" stroke-linecap="round" fill="none"/><path d="M78.8 69.3L86.2 69.3" stroke="#e8122c" stroke-opacity="0.18" stroke-width="0.89" stroke-linecap="round" stroke-linejoin="round" fill="none"/><path d="M80.4 69.3L84.6 69.3" stroke="#e8122c" stroke-opacity="0.22" stroke-width="1.48" stroke-linecap="round" fill="none"/><path d="M86.2 69.3L90.1 75.8" stroke="#e8122c" stroke-opacity="0.15" stroke-width="0.89" stroke-linecap="round" stroke-linejoin="round" fill="none"/><path d="M87.1 70.8L89.3 74.4" stroke="#e8122c" stroke-opacity="0.20" stroke-width="1.48" stroke-linecap="round" fill="none"/><circle cx="86.2" cy="69.3" r="2.22" fill="#e8122c" fill-opacity="0.36"/><circle cx="96.8" cy="72.3" r="3.70" fill="#e8122c" fill-opacity="0.06"/><path d="M109.7 64.3L117.1 70.5" stroke="#e8122c" stroke-opacity="0.15" stroke-width="1.33" stroke-linecap="round" stroke-linejoin="round" fill="none"/><path d="M111.3 65.7L115.4 69.1" stroke="#e8122c" stroke-opacity="0.20" stroke-width="2.22" stroke-linecap="round" fill="none"/><circle cx="112.2" cy="71.2" r="4.43" fill="#e8122c" fill-opacity="0.14"/><circle cx="71.5" cy="72.3" r="6.16" fill="#e8122c" fill-opacity="0.06"/><circle cx="66.3" cy="79.3" r="2.96" fill="#e8122c" fill-opacity="0.38"/><circle cx="102.6" cy="82.0" r="2.22" fill="#e8122c" fill-opacity="0.04"/><circle cx="70.3" cy="95.5" r="3.94" fill="#e8122c" fill-opacity="0.06"/><circle cx="112.2" cy="99.6" r="5.42" fill="#e8122c" fill-opacity="0.04"/><circle cx="100.4" cy="104.3" r="6.16" fill="#e8122c" fill-opacity="0.06"/><circle cx="91.6" cy="107.6" r="3.45" fill="#e8122c" fill-opacity="0.38"/><path d="M91.6 103.6L91.6 107.6" stroke="#e8122c" stroke-opacity="0.18" stroke-width="0.89" stroke-linecap="round" stroke-linejoin="round" fill="none"/><path d="M91.6 104.5L91.6 106.7" stroke="#e8122c" stroke-opacity="0.22" stroke-width="1.48" stroke-linecap="round" fill="none"/><path d="M60.0 66.1L65.9 66.8" stroke="#e8122c" stroke-opacity="0.07" stroke-width="0.59" stroke-linecap="round" stroke-linejoin="round" fill="none"/><path d="M61.3 66.3L64.6 66.7" stroke="#e8122c" stroke-opacity="0.08" stroke-width="0.99" stroke-linecap="round" fill="none"/></g><g filter="url(#bS)"><path d="M6.8 3.4L5.8 9.9" stroke="#e8122c" stroke-opacity="0.05" stroke-width="0.70" stroke-linecap="round" stroke-linejoin="round" fill="none"/><path d="M6.6 4.8L6.0 8.5" stroke="#e8122c" stroke-opacity="0.07" stroke-width="1.16" stroke-linecap="round" fill="none"/><circle cx="15.6" cy="1.0" r="2.90" fill="#e8122c" fill-opacity="0.11"/><circle cx="23.1" cy="11.1" r="2.32" fill="#e8122c" fill-opacity="0.11"/><path d="M31.1 7.0L36.1 10.6" stroke="#e8122c" stroke-opacity="0.37" stroke-width="1.04" stroke-linecap="round" stroke-linejoin="round" fill="none"/><path d="M32.2 7.8L35.0 9.8" stroke="#e8122c" stroke-opacity="0.47" stroke-width="1.74" stroke-linecap="round" fill="none"/><path d="M38.7 8.2L44.8 15.0" stroke="#e8122c" stroke-opacity="0.39" stroke-width="1.04" stroke-linecap="round" stroke-linejoin="round" fill="none"/><path d="M40.1 9.7L43.5 13.5" stroke="#e8122c" stroke-opacity="0.50" stroke-width="1.74" stroke-linecap="round" fill="none"/><path d="M42.2 5.6L39.8 9.9" stroke="#e8122c" stroke-opacity="0.26" stroke-width="0.52" stroke-linecap="round" stroke-linejoin="round" fill="none"/><path d="M41.7 6.5L40.3 9.0" stroke="#e8122c" stroke-opacity="0.33" stroke-width="0.87" stroke-linecap="round" fill="none"/><path d="M22.8 21.2L25.3 28.7" stroke="#e8122c" stroke-opacity="0.44" stroke-width="0.96" stroke-linecap="round" stroke-linejoin="round" fill="none"/><path d="M23.4 22.9L24.8 27.1" stroke="#e8122c" stroke-opacity="0.57" stroke-width="1.59" stroke-linecap="round" fill="none"/><circle cx="42.8" cy="22.9" r="1.74" fill="#e8122c" fill-opacity="0.57"/><path d="M43.4 23.7L45.1 29.4" stroke="#e8122c" stroke-opacity="0.44" stroke-width="0.96" stroke-linecap="round" stroke-linejoin="round" fill="none"/><path d="M43.8 24.9L44.7 28.2" stroke="#e8122c" stroke-opacity="0.57" stroke-width="1.59" stroke-linecap="round" fill="none"/><path d="M44.8 23.7L46.6 18.3" stroke="#e8122c" stroke-opacity="0.21" stroke-width="0.35" stroke-linecap="round" stroke-linejoin="round" fill="none"/><path d="M45.2 22.5L46.2 19.5" stroke="#e8122c" stroke-opacity="0.27" stroke-width="0.58" stroke-linecap="round" fill="none"/><circle cx="36.0" cy="34.8" r="3.33" fill="#e8122c" fill-opacity="0.30"/><circle cx="36.0" cy="34.8" r="2.03" fill="#e8122c" fill-opacity="0.10"/><path d="M45.5 35.9L57.8 32.3" stroke="#e8122c" stroke-opacity="0.10" stroke-width="0.35" stroke-linecap="round" stroke-linejoin="round" fill="none"/><path d="M48.2 35.1L55.1 33.1" stroke="#e8122c" stroke-opacity="0.13" stroke-width="0.58" stroke-linecap="round" fill="none"/><circle cx="45.5" cy="35.9" r="1.16" fill="#e8122c" fill-opacity="0.85"/><path d="M36.1 41.0L34.7 49.0" stroke="#e8122c" stroke-opacity="0.31" stroke-width="0.87" stroke-linecap="round" stroke-linejoin="round" fill="none"/><path d="M35.8 42.8L35.0 47.2" stroke="#e8122c" stroke-opacity="0.40" stroke-width="1.45" stroke-linecap="round" fill="none"/><circle cx="12.7" cy="43.5" r="2.03" fill="#e8122c" fill-opacity="0.14"/><path d="M43.1 40.7L48.9 50.1" stroke="#e8122c" stroke-opacity="0.37" stroke-width="0.70" stroke-linecap="round" stroke-linejoin="round" fill="none"/><path d="M44.4 42.8L47.6 48.0" stroke="#e8122c" stroke-opacity="0.47" stroke-width="1.16" stroke-linecap="round" fill="none"/><path d="M50.3 38.5L58.6 46.8" stroke="#e8122c" stroke-opacity="0.31" stroke-width="0.52" stroke-linecap="round" stroke-linejoin="round" fill="none"/><path d="M52.1 40.4L56.7 45.0" stroke="#e8122c" stroke-opacity="0.40" stroke-width="0.87" stroke-linecap="round" fill="none"/><path d="M57.8 46.1L63.6 49.2L68.8 51.6" stroke="#e8122c" stroke-opacity="0.16" stroke-width="0.35" stroke-linecap="round" stroke-linejoin="round" fill="none"/><path d="M60.1 47.3L63.6 49.2L66.7 50.6" stroke="#e8122c" stroke-opacity="0.20" stroke-width="0.58" stroke-linecap="round" stroke-linejoin="round" fill="none"/><path d="M40.5 48.2L40.5 56.8" stroke="#e8122c" stroke-opacity="0.42" stroke-width="1.04" stroke-linecap="round" stroke-linejoin="round" fill="none"/><path d="M40.5 50.1L40.5 54.9" stroke="#e8122c" stroke-opacity="0.53" stroke-width="1.74" stroke-linecap="round" fill="none"/><circle cx="60.7" cy="55.3" r="3.91" fill="#e8122c" fill-opacity="0.05"/><circle cx="60.4" cy="55.0" r="2.46" fill="#e8122c" fill-opacity="0.28"/><circle cx="74.2" cy="1.0" r="1.74" fill="#e8122c" fill-opacity="0.10"/><circle cx="89.3" cy="1.2" r="1.74" fill="#e8122c" fill-opacity="0.14"/><path d="M83.1 4.1L86.7 5.9L90.6 6.3" stroke="#e8122c" stroke-opacity="0.21" stroke-width="0.52" stroke-linecap="round" stroke-linejoin="round" fill="none"/><path d="M84.6 4.8L86.7 5.9L89.1 6.1" stroke="#e8122c" stroke-opacity="0.27" stroke-width="0.87" stroke-linecap="round" stroke-linejoin="round" fill="none"/><circle cx="69.5" cy="7.0" r="1.88" fill="#e8122c" fill-opacity="0.10"/><circle cx="95.3" cy="13.7" r="2.17" fill="#e8122c" fill-opacity="0.28"/><circle cx="104.5" cy="14.0" r="2.17" fill="#e8122c" fill-opacity="0.28"/><circle cx="87.0" cy="18.9" r="1.74" fill="#e8122c" fill-opacity="0.28"/><circle cx="65.1" cy="31.8" r="2.90" fill="#e8122c" fill-opacity="0.14"/><circle cx="89.6" cy="34.2" r="2.17" fill="#e8122c" fill-opacity="0.28"/><circle cx="80.0" cy="36.1" r="2.61" fill="#e8122c" fill-opacity="0.28"/><circle cx="68.7" cy="40.6" r="2.32" fill="#e8122c" fill-opacity="0.14"/><circle cx="98.6" cy="48.2" r="1.74" fill="#e8122c" fill-opacity="0.10"/><circle cx="84.1" cy="53.6" r="1.45" fill="#e8122c" fill-opacity="0.76"/><circle cx="114.9" cy="51.3" r="1.74" fill="#e8122c" fill-opacity="0.76"/><circle cx="104.8" cy="54.0" r="1.59" fill="#e8122c" fill-opacity="0.10"/><circle cx="37.9" cy="63.2" r="2.61" fill="#e8122c" fill-opacity="0.24"/><circle cx="4.7" cy="66.4" r="2.03" fill="#e8122c" fill-opacity="0.14"/><path d="M10.3 61.7L17.6 66.1L22.1 68.7" stroke="#e8122c" stroke-opacity="0.37" stroke-width="0.78" stroke-linecap="round" stroke-linejoin="round" fill="none"/><path d="M13.2 63.4L17.6 66.1L20.3 67.7" stroke="#e8122c" stroke-opacity="0.47" stroke-width="1.30" stroke-linecap="round" stroke-linejoin="round" fill="none"/><circle cx="20.6" cy="67.9" r="1.74" fill="#e8122c" fill-opacity="0.90"/><path d="M45.3 61.7L50.7 64.6L56.2 65.8" stroke="#e8122c" stroke-opacity="0.26" stroke-width="0.52" stroke-linecap="round" stroke-linejoin="round" fill="none"/><path d="M47.5 62.9L50.7 64.6L54.0 65.3" stroke="#e8122c" stroke-opacity="0.33" stroke-width="0.87" stroke-linecap="round" stroke-linejoin="round" fill="none"/><circle cx="28.8" cy="70.2" r="2.17" fill="#e8122c" fill-opacity="0.28"/><circle cx="31.9" cy="65.8" r="1.01" fill="#e8122c" fill-opacity="0.90"/><circle cx="38.5" cy="79.3" r="1.30" fill="#e8122c" fill-opacity="0.38"/><circle cx="0.7" cy="79.3" r="1.45" fill="#e8122c" fill-opacity="0.10"/><circle cx="54.7" cy="88.9" r="3.04" fill="#e8122c" fill-opacity="0.10"/><path d="M33.1 95.8L37.5 91.5L44.1 91.8L51.5 95.2" stroke="#e8122c" stroke-opacity="0.31" stroke-width="0.61" stroke-linecap="round" stroke-linejoin="round" fill="none"/><path d="M34.9 94.1L37.5 91.5L44.1 91.8L48.5 93.9" stroke="#e8122c" stroke-opacity="0.40" stroke-width="1.01" stroke-linecap="round" stroke-linejoin="round" fill="none"/><circle cx="52.2" cy="93.7" r="1.01" fill="#e8122c" fill-opacity="0.90"/><circle cx="10.3" cy="93.4" r="3.62" fill="#e8122c" fill-opacity="0.19"/><path d="M2.2 99.9L1.8 107.3" stroke="#e8122c" stroke-opacity="0.05" stroke-width="0.43" stroke-linecap="round" stroke-linejoin="round" fill="none"/><path d="M2.1 101.5L1.9 105.7" stroke="#e8122c" stroke-opacity="0.07" stroke-width="0.72" stroke-linecap="round" fill="none"/><path d="M8.1 109.8L16.2 107.6" stroke="#e8122c" stroke-opacity="0.31" stroke-width="0.52" stroke-linecap="round" stroke-linejoin="round" fill="none"/><path d="M9.9 109.3L14.4 108.1" stroke="#e8122c" stroke-opacity="0.40" stroke-width="0.87" stroke-linecap="round" fill="none"/><path d="M12.5 102.9L15.4 107.3" stroke="#e8122c" stroke-opacity="0.16" stroke-width="0.35" stroke-linecap="round" stroke-linejoin="round" fill="none"/><path d="M13.1 103.8L14.8 106.3" stroke="#e8122c" stroke-opacity="0.20" stroke-width="0.58" stroke-linecap="round" fill="none"/><circle cx="17.4" cy="107.9" r="1.30" fill="#e8122c" fill-opacity="0.90"/><circle cx="45.1" cy="72.0" r="0.43" fill="#e8122c" fill-opacity="0.76"/><circle cx="23.5" cy="94.3" r="0.43" fill="#e8122c" fill-opacity="0.66"/><circle cx="81.3" cy="62.0" r="3.91" fill="#e8122c" fill-opacity="0.14"/><path d="M87.9 61.7L86.2 69.3" stroke="#e8122c" stroke-opacity="0.37" stroke-width="0.52" stroke-linecap="round" stroke-linejoin="round" fill="none"/><path d="M87.6 63.4L86.6 67.6" stroke="#e8122c" stroke-opacity="0.47" stroke-width="0.87" stroke-linecap="round" fill="none"/><path d="M78.8 69.3L86.2 69.3" stroke="#e8122c" stroke-opacity="0.42" stroke-width="0.52" stroke-linecap="round" stroke-linejoin="round" fill="none"/><path d="M80.4 69.3L84.6 69.3" stroke="#e8122c" stroke-opacity="0.53" stroke-width="0.87" stroke-linecap="round" fill="none"/><path d="M86.2 69.3L90.1 75.8" stroke="#e8122c" stroke-opacity="0.37" stroke-width="0.52" stroke-linecap="round" stroke-linejoin="round" fill="none"/><path d="M87.1 70.8L89.3 74.4" stroke="#e8122c" stroke-opacity="0.47" stroke-width="0.87" stroke-linecap="round" fill="none"/><circle cx="86.2" cy="69.3" r="1.30" fill="#e8122c" fill-opacity="0.85"/><circle cx="96.8" cy="72.3" r="2.17" fill="#e8122c" fill-opacity="0.14"/><path d="M109.7 64.3L117.1 70.5" stroke="#e8122c" stroke-opacity="0.37" stroke-width="0.78" stroke-linecap="round" stroke-linejoin="round" fill="none"/><path d="M111.3 65.7L115.4 69.1" stroke="#e8122c" stroke-opacity="0.47" stroke-width="1.30" stroke-linecap="round" fill="none"/><circle cx="112.2" cy="71.2" r="2.61" fill="#e8122c" fill-opacity="0.33"/><circle cx="71.5" cy="72.3" r="3.62" fill="#e8122c" fill-opacity="0.14"/><circle cx="66.3" cy="79.3" r="1.74" fill="#e8122c" fill-opacity="0.90"/><circle cx="102.6" cy="82.0" r="1.30" fill="#e8122c" fill-opacity="0.10"/><circle cx="70.3" cy="95.5" r="2.32" fill="#e8122c" fill-opacity="0.14"/><circle cx="112.2" cy="99.6" r="3.19" fill="#e8122c" fill-opacity="0.10"/><circle cx="100.4" cy="104.3" r="3.62" fill="#e8122c" fill-opacity="0.14"/><circle cx="91.6" cy="107.6" r="2.03" fill="#e8122c" fill-opacity="0.90"/><path d="M91.6 103.6L91.6 107.6" stroke="#e8122c" stroke-opacity="0.42" stroke-width="0.52" stroke-linecap="round" stroke-linejoin="round" fill="none"/><path d="M91.6 104.5L91.6 106.7" stroke="#e8122c" stroke-opacity="0.53" stroke-width="0.87" stroke-linecap="round" fill="none"/><path d="M60.0 66.1L65.9 66.8" stroke="#e8122c" stroke-opacity="0.16" stroke-width="0.35" stroke-linecap="round" stroke-linejoin="round" fill="none"/><path d="M61.3 66.3L64.6 66.7" stroke="#e8122c" stroke-opacity="0.20" stroke-width="0.58" stroke-linecap="round" fill="none"/></g></g></g></g><rect x="0.6" y="0.6" width="118.4" height="112.4" fill="none" stroke="#000" stroke-width="1.2"/></g>
<clipPath id="c2"><rect x="0" y="0" width="119.1" height="113.6"/></clipPath><g transform="translate(140.1 144.1)"><rect x="0" y="0" width="119.1" height="113.6" fill="#15130c"/><g clip-path="url(#c2)"><g transform="translate(-0.1 0.3)"><g filter="url(#bH)"><circle cx="6.8" cy="3.0" r="3.1" fill="#2a2a90" fill-opacity="0.32"/><circle cx="15.6" cy="0.5" r="3.1" fill="#2a2a90" fill-opacity="0.32"/><circle cx="33.0" cy="0.5" r="3.1" fill="#2a2a90" fill-opacity="0.32"/><circle cx="23.6" cy="10.8" r="3.1" fill="#2a2a90" fill-opacity="0.32"/><circle cx="35.7" cy="9.6" r="3.1" fill="#2a2a90" fill-opacity="0.32"/><circle cx="39.2" cy="10.2" r="3.1" fill="#2a2a90" fill-opacity="0.32"/><circle cx="45.0" cy="13.1" r="3.1" fill="#2a2a90" fill-opacity="0.32"/><circle cx="23.6" cy="20.8" r="3.1" fill="#2a2a90" fill-opacity="0.32"/><circle cx="24.1" cy="26.7" r="3.1" fill="#2a2a90" fill-opacity="0.32"/><circle cx="43.1" cy="24.7" r="3.1" fill="#2a2a90" fill-opacity="0.32"/><circle cx="45.1" cy="27.3" r="3.1" fill="#2a2a90" fill-opacity="0.32"/><circle cx="39.0" cy="34.5" r="3.1" fill="#2a2a90" fill-opacity="0.32"/><circle cx="46.4" cy="35.1" r="3.1" fill="#2a2a90" fill-opacity="0.32"/><circle cx="36.1" cy="41.7" r="3.1" fill="#2a2a90" fill-opacity="0.32"/><circle cx="10.1" cy="45.6" r="3.1" fill="#2a2a90" fill-opacity="0.32"/><circle cx="46.8" cy="46.4" r="3.1" fill="#2a2a90" fill-opacity="0.32"/><circle cx="57.8" cy="46.1" r="3.1" fill="#2a2a90" fill-opacity="0.32"/><circle cx="40.5" cy="55.1" r="3.1" fill="#2a2a90" fill-opacity="0.32"/><circle cx="60.2" cy="54.8" r="3.1" fill="#2a2a90" fill-opacity="0.32"/><circle cx="74.2" cy="0.5" r="3.1" fill="#2a2a90" fill-opacity="0.32"/><circle cx="89.3" cy="1.0" r="3.1" fill="#2a2a90" fill-opacity="0.32"/><circle cx="82.8" cy="3.8" r="3.1" fill="#2a2a90" fill-opacity="0.32"/><circle cx="69.5" cy="6.7" r="3.1" fill="#2a2a90" fill-opacity="0.32"/><circle cx="96.1" cy="13.7" r="3.1" fill="#2a2a90" fill-opacity="0.32"/><circle cx="103.8" cy="14.4" r="3.1" fill="#2a2a90" fill-opacity="0.32"/><circle cx="88.0" cy="18.9" r="3.1" fill="#2a2a90" fill-opacity="0.32"/><circle cx="65.3" cy="31.9" r="3.1" fill="#2a2a90" fill-opacity="0.32"/><circle cx="89.9" cy="33.5" r="3.1" fill="#2a2a90" fill-opacity="0.32"/><circle cx="78.8" cy="36.7" r="3.1" fill="#2a2a90" fill-opacity="0.32"/><circle cx="69.1" cy="40.0" r="3.1" fill="#2a2a90" fill-opacity="0.32"/><circle cx="98.6" cy="48.2" r="3.1" fill="#2a2a90" fill-opacity="0.32"/><circle cx="84.1" cy="52.1" r="3.1" fill="#2a2a90" fill-opacity="0.32"/><circle cx="116.1" cy="51.1" r="3.1" fill="#2a2a90" fill-opacity="0.32"/><circle cx="104.8" cy="54.0" r="3.1" fill="#2a2a90" fill-opacity="0.32"/><circle cx="38.7" cy="64.5" r="3.1" fill="#2a2a90" fill-opacity="0.32"/><circle cx="6.8" cy="67.4" r="3.1" fill="#2a2a90" fill-opacity="0.32"/><circle cx="17.6" cy="66.8" r="3.1" fill="#2a2a90" fill-opacity="0.32"/><circle cx="55.7" cy="65.9" r="3.1" fill="#2a2a90" fill-opacity="0.32"/><circle cx="29.6" cy="71.3" r="3.1" fill="#2a2a90" fill-opacity="0.32"/><circle cx="38.3" cy="77.5" r="3.1" fill="#2a2a90" fill-opacity="0.32"/><circle cx="1.2" cy="80.1" r="3.1" fill="#2a2a90" fill-opacity="0.32"/><circle cx="55.2" cy="87.6" r="3.1" fill="#2a2a90" fill-opacity="0.32"/><circle cx="25.3" cy="90.2" r="3.1" fill="#2a2a90" fill-opacity="0.32"/><circle cx="40.5" cy="90.9" r="3.1" fill="#2a2a90" fill-opacity="0.32"/><circle cx="11.1" cy="94.8" r="3.1" fill="#2a2a90" fill-opacity="0.32"/><circle cx="44.2" cy="98.0" r="3.1" fill="#2a2a90" fill-opacity="0.32"/><circle cx="2.2" cy="108.6" r="3.1" fill="#2a2a90" fill-opacity="0.32"/><circle cx="16.3" cy="109.0" r="3.1" fill="#2a2a90" fill-opacity="0.32"/><circle cx="79.2" cy="61.9" r="3.1" fill="#2a2a90" fill-opacity="0.32"/><circle cx="86.0" cy="69.5" r="3.1" fill="#2a2a90" fill-opacity="0.32"/><circle cx="96.1" cy="71.3" r="3.1" fill="#2a2a90" fill-opacity="0.32"/><circle cx="112.3" cy="71.0" r="3.1" fill="#2a2a90" fill-opacity="0.32"/><circle cx="115.4" cy="69.1" r="3.1" fill="#2a2a90" fill-opacity="0.32"/><circle cx="69.4" cy="72.1" r="3.1" fill="#2a2a90" fill-opacity="0.32"/><circle cx="64.8" cy="77.9" r="3.1" fill="#2a2a90" fill-opacity="0.32"/><circle cx="102.8" cy="81.8" r="3.1" fill="#2a2a90" fill-opacity="0.32"/><circle cx="70.4" cy="96.3" r="3.1" fill="#2a2a90" fill-opacity="0.32"/><circle cx="111.6" cy="98.6" r="3.1" fill="#2a2a90" fill-opacity="0.32"/><circle cx="101.5" cy="103.2" r="3.1" fill="#2a2a90" fill-opacity="0.32"/><circle cx="91.8" cy="108.6" r="3.1" fill="#2a2a90" fill-opacity="0.32"/></g><g filter="url(#bN)"><ellipse cx="6.8" cy="3.0" rx="1.86" ry="1.16" transform="rotate(99 6.8 3.0)" fill="#5560e6" fill-opacity="1.0"/><ellipse cx="15.6" cy="0.5" rx="1.60" ry="1.16" transform="rotate(27 15.6 0.5)" fill="#5560e6" fill-opacity="1.0"/><ellipse cx="33.0" cy="0.5" rx="1.49" ry="1.27" transform="rotate(117 33.0 0.5)" fill="#5560e6" fill-opacity="1.0"/><ellipse cx="23.6" cy="10.8" rx="1.68" ry="1.37" transform="rotate(13 23.6 10.8)" fill="#5560e6" fill-opacity="1.0"/><ellipse cx="35.7" cy="9.6" rx="1.86" ry="1.16" transform="rotate(36 35.7 9.6)" fill="#5560e6" fill-opacity="1.0"/><ellipse cx="39.2" cy="10.2" rx="1.86" ry="1.16" transform="rotate(120 39.2 10.2)" fill="#5560e6" fill-opacity="1.0"/><ellipse cx="45.0" cy="13.1" rx="1.86" ry="1.16" transform="rotate(48 45.0 13.1)" fill="#5560e6" fill-opacity="1.0"/><ellipse cx="23.6" cy="20.8" rx="1.86" ry="1.16" transform="rotate(72 23.6 20.8)" fill="#5560e6" fill-opacity="1.0"/><ellipse cx="24.1" cy="26.7" rx="1.86" ry="1.16" transform="rotate(72 24.1 26.7)" fill="#5560e6" fill-opacity="1.0"/><ellipse cx="43.1" cy="24.7" rx="1.86" ry="1.16" transform="rotate(73 43.1 24.7)" fill="#5560e6" fill-opacity="1.0"/><ellipse cx="45.1" cy="27.3" rx="1.86" ry="1.16" transform="rotate(73 45.1 27.3)" fill="#5560e6" fill-opacity="1.0"/><ellipse cx="39.0" cy="34.5" rx="1.51" ry="1.29" transform="rotate(16 39.0 34.5)" fill="#5560e6" fill-opacity="1.0"/><ellipse cx="46.4" cy="35.1" rx="1.86" ry="1.16" transform="rotate(-16 46.4 35.1)" fill="#5560e6" fill-opacity="1.0"/><ellipse cx="36.1" cy="41.7" rx="1.86" ry="1.16" transform="rotate(100 36.1 41.7)" fill="#5560e6" fill-opacity="1.0"/><ellipse cx="10.1" cy="45.6" rx="1.47" ry="1.31" transform="rotate(22 10.1 45.6)" fill="#5560e6" fill-opacity="1.0"/><ellipse cx="46.8" cy="46.4" rx="1.86" ry="1.16" transform="rotate(58 46.8 46.4)" fill="#5560e6" fill-opacity="1.0"/><ellipse cx="57.8" cy="46.1" rx="1.86" ry="1.16" transform="rotate(45 57.8 46.1)" fill="#5560e6" fill-opacity="1.0"/><ellipse cx="40.5" cy="55.1" rx="1.86" ry="1.16" transform="rotate(90 40.5 55.1)" fill="#5560e6" fill-opacity="1.0"/><ellipse cx="60.2" cy="54.8" rx="1.55" ry="0.97" transform="rotate(104 60.2 54.8)" fill="#5560e6" fill-opacity="1.0"/><ellipse cx="74.2" cy="0.5" rx="1.58" ry="1.22" transform="rotate(71 74.2 0.5)" fill="#5560e6" fill-opacity="1.0"/><ellipse cx="89.3" cy="1.0" rx="1.59" ry="1.07" transform="rotate(176 89.3 1.0)" fill="#5560e6" fill-opacity="1.0"/><ellipse cx="82.8" cy="3.8" rx="1.86" ry="1.16" transform="rotate(26 82.8 3.8)" fill="#5560e6" fill-opacity="1.0"/><ellipse cx="69.5" cy="6.7" rx="1.76" ry="1.13" transform="rotate(155 69.5 6.7)" fill="#5560e6" fill-opacity="1.0"/><ellipse cx="96.1" cy="13.7" rx="1.81" ry="1.58" transform="rotate(52 96.1 13.7)" fill="#5560e6" fill-opacity="1.0"/><ellipse cx="103.8" cy="14.4" rx="1.62" ry="1.08" transform="rotate(26 103.8 14.4)" fill="#5560e6" fill-opacity="1.0"/><ellipse cx="88.0" cy="18.9" rx="1.63" ry="1.14" transform="rotate(21 88.0 18.9)" fill="#5560e6" fill-opacity="1.0"/><ellipse cx="65.3" cy="31.9" rx="1.49" ry="1.11" transform="rotate(56 65.3 31.9)" fill="#5560e6" fill-opacity="1.0"/><ellipse cx="89.9" cy="33.5" rx="1.49" ry="1.36" transform="rotate(147 89.9 33.5)" fill="#5560e6" fill-opacity="1.0"/><ellipse cx="78.8" cy="36.7" rx="1.58" ry="1.02" transform="rotate(33 78.8 36.7)" fill="#5560e6" fill-opacity="1.0"/><ellipse cx="69.1" cy="40.0" rx="1.55" ry="1.19" transform="rotate(105 69.1 40.0)" fill="#5560e6" fill-opacity="1.0"/><ellipse cx="98.6" cy="48.2" rx="1.75" ry="1.41" transform="rotate(115 98.6 48.2)" fill="#5560e6" fill-opacity="1.0"/><ellipse cx="84.1" cy="52.1" rx="1.52" ry="1.38" transform="rotate(67 84.1 52.1)" fill="#5560e6" fill-opacity="1.0"/><ellipse cx="116.1" cy="51.1" rx="1.47" ry="1.31" transform="rotate(99 116.1 51.1)" fill="#5560e6" fill-opacity="1.0"/><ellipse cx="104.8" cy="54.0" rx="1.80" ry="1.63" transform="rotate(11 104.8 54.0)" fill="#5560e6" fill-opacity="1.0"/><ellipse cx="38.7" cy="64.5" rx="1.65" ry="1.17" transform="rotate(11 38.7 64.5)" fill="#5560e6" fill-opacity="1.0"/><ellipse cx="6.8" cy="67.4" rx="1.51" ry="1.14" transform="rotate(37 6.8 67.4)" fill="#5560e6" fill-opacity="1.0"/><ellipse cx="17.6" cy="66.8" rx="1.86" ry="1.16" transform="rotate(31 17.6 66.8)" fill="#5560e6" fill-opacity="1.0"/><ellipse cx="55.7" cy="65.9" rx="1.86" ry="1.16" transform="rotate(12 55.7 65.9)" fill="#5560e6" fill-opacity="1.0"/><ellipse cx="29.6" cy="71.3" rx="1.65" ry="1.54" transform="rotate(57 29.6 71.3)" fill="#5560e6" fill-opacity="1.0"/><ellipse cx="38.3" cy="77.5" rx="1.81" ry="1.21" transform="rotate(105 38.3 77.5)" fill="#5560e6" fill-opacity="1.0"/><ellipse cx="1.2" cy="80.1" rx="1.77" ry="1.20" transform="rotate(82 1.2 80.1)" fill="#5560e6" fill-opacity="1.0"/><ellipse cx="55.2" cy="87.6" rx="1.71" ry="1.19" transform="rotate(54 55.2 87.6)" fill="#5560e6" fill-opacity="1.0"/><ellipse cx="25.3" cy="90.2" rx="1.55" ry="1.08" transform="rotate(143 25.3 90.2)" fill="#5560e6" fill-opacity="1.0"/><ellipse cx="40.5" cy="90.9" rx="1.86" ry="1.16" transform="rotate(3 40.5 90.9)" fill="#5560e6" fill-opacity="1.0"/><ellipse cx="11.1" cy="94.8" rx="1.52" ry="1.24" transform="rotate(44 11.1 94.8)" fill="#5560e6" fill-opacity="1.0"/><ellipse cx="44.2" cy="98.0" rx="1.73" ry="1.22" transform="rotate(103 44.2 98.0)" fill="#5560e6" fill-opacity="1.0"/><ellipse cx="2.2" cy="108.6" rx="1.86" ry="1.16" transform="rotate(93 2.2 108.6)" fill="#5560e6" fill-opacity="1.0"/><ellipse cx="16.3" cy="109.0" rx="1.86" ry="1.16" transform="rotate(-15 16.3 109.0)" fill="#5560e6" fill-opacity="1.0"/><ellipse cx="79.2" cy="61.9" rx="1.58" ry="1.17" transform="rotate(131 79.2 61.9)" fill="#5560e6" fill-opacity="1.0"/><ellipse cx="86.0" cy="69.5" rx="1.86" ry="1.16" transform="rotate(0 86.0 69.5)" fill="#5560e6" fill-opacity="1.0"/><ellipse cx="96.1" cy="71.3" rx="1.75" ry="1.63" transform="rotate(176 96.1 71.3)" fill="#5560e6" fill-opacity="1.0"/><ellipse cx="112.3" cy="71.0" rx="1.81" ry="1.53" transform="rotate(21 112.3 71.0)" fill="#5560e6" fill-opacity="1.0"/><ellipse cx="115.4" cy="69.1" rx="1.86" ry="1.16" transform="rotate(40 115.4 69.1)" fill="#5560e6" fill-opacity="1.0"/><ellipse cx="69.4" cy="72.1" rx="1.75" ry="1.44" transform="rotate(136 69.4 72.1)" fill="#5560e6" fill-opacity="1.0"/><ellipse cx="64.8" cy="77.9" rx="1.75" ry="1.48" transform="rotate(27 64.8 77.9)" fill="#5560e6" fill-opacity="1.0"/><ellipse cx="102.8" cy="81.8" rx="1.72" ry="1.10" transform="rotate(88 102.8 81.8)" fill="#5560e6" fill-opacity="1.0"/><ellipse cx="70.4" cy="96.3" rx="1.54" ry="1.41" transform="rotate(7 70.4 96.3)" fill="#5560e6" fill-opacity="1.0"/><ellipse cx="111.6" cy="98.6" rx="1.64" ry="1.44" transform="rotate(120 111.6 98.6)" fill="#5560e6" fill-opacity="1.0"/><ellipse cx="101.5" cy="103.2" rx="1.58" ry="1.44" transform="rotate(138 101.5 103.2)" fill="#5560e6" fill-opacity="1.0"/><ellipse cx="91.8" cy="108.6" rx="1.86" ry="1.16" transform="rotate(90 91.8 108.6)" fill="#5560e6" fill-opacity="1.0"/></g><g style="mix-blend-mode:screen"><g filter="url(#bG)"><path d="M6.8 3.4L5.8 9.9" stroke="#e6d21e" stroke-opacity="0.07" stroke-width="1.18" stroke-linecap="round" stroke-linejoin="round" fill="none"/><path d="M6.6 4.8L6.0 8.5" stroke="#e6d21e" stroke-opacity="0.08" stroke-width="1.97" stroke-linecap="round" fill="none"/><circle cx="15.6" cy="1.0" r="4.93" fill="#e6d21e" fill-opacity="0.24"/><circle cx="23.1" cy="11.1" r="3.94" fill="#e6d21e" fill-opacity="0.08"/><path d="M31.1 7.0L36.1 10.6" stroke="#e6d21e" stroke-opacity="0.18" stroke-width="1.77" stroke-linecap="round" stroke-linejoin="round" fill="none"/><path d="M32.2 7.8L35.0 9.8" stroke="#e6d21e" stroke-opacity="0.22" stroke-width="2.96" stroke-linecap="round" fill="none"/><path d="M38.7 8.2L44.8 15.0" stroke="#e6d21e" stroke-opacity="0.18" stroke-width="1.77" stroke-linecap="round" stroke-linejoin="round" fill="none"/><path d="M40.1 9.7L43.5 13.5" stroke="#e6d21e" stroke-opacity="0.22" stroke-width="2.96" stroke-linecap="round" fill="none"/><path d="M42.2 5.6L39.8 9.9" stroke="#e6d21e" stroke-opacity="0.13" stroke-width="0.89" stroke-linecap="round" stroke-linejoin="round" fill="none"/><path d="M41.7 6.5L40.3 9.0" stroke="#e6d21e" stroke-opacity="0.17" stroke-width="1.48" stroke-linecap="round" fill="none"/><path d="M22.8 21.2L25.3 28.7" stroke="#e6d21e" stroke-opacity="0.19" stroke-width="1.63" stroke-linecap="round" stroke-linejoin="round" fill="none"/><path d="M23.4 22.9L24.8 27.1" stroke="#e6d21e" stroke-opacity="0.24" stroke-width="2.71" stroke-linecap="round" fill="none"/><circle cx="42.8" cy="22.9" r="2.96" fill="#e6d21e" fill-opacity="0.32"/><path d="M43.4 23.7L45.1 29.4" stroke="#e6d21e" stroke-opacity="0.18" stroke-width="1.63" stroke-linecap="round" stroke-linejoin="round" fill="none"/><path d="M43.8 24.9L44.7 28.2" stroke="#e6d21e" stroke-opacity="0.22" stroke-width="2.71" stroke-linecap="round" fill="none"/><path d="M44.8 23.7L46.6 18.3" stroke="#e6d21e" stroke-opacity="0.11" stroke-width="0.59" stroke-linecap="round" stroke-linejoin="round" fill="none"/><path d="M45.2 22.5L46.2 19.5" stroke="#e6d21e" stroke-opacity="0.14" stroke-width="0.99" stroke-linecap="round" fill="none"/><circle cx="36.0" cy="34.8" r="5.67" fill="#e6d21e" fill-opacity="0.30"/><circle cx="36.0" cy="34.8" r="3.45" fill="#e6d21e" fill-opacity="0.20"/><path d="M45.5 35.9L57.8 32.3" stroke="#e6d21e" stroke-opacity="0.08" stroke-width="0.59" stroke-linecap="round" stroke-linejoin="round" fill="none"/><path d="M48.2 35.1L55.1 33.1" stroke="#e6d21e" stroke-opacity="0.10" stroke-width="0.99" stroke-linecap="round" fill="none"/><circle cx="45.5" cy="35.9" r="1.97" fill="#e6d21e" fill-opacity="0.36"/><path d="M36.1 41.0L34.7 49.0" stroke="#e6d21e" stroke-opacity="0.18" stroke-width="1.48" stroke-linecap="round" stroke-linejoin="round" fill="none"/><path d="M35.8 42.8L35.0 47.2" stroke="#e6d21e" stroke-opacity="0.22" stroke-width="2.46" stroke-linecap="round" fill="none"/><circle cx="12.7" cy="43.5" r="3.45" fill="#e6d21e" fill-opacity="0.12"/><path d="M43.1 40.7L48.9 50.1" stroke="#e6d21e" stroke-opacity="0.13" stroke-width="1.18" stroke-linecap="round" stroke-linejoin="round" fill="none"/><path d="M44.4 42.8L47.6 48.0" stroke="#e6d21e" stroke-opacity="0.17" stroke-width="1.97" stroke-linecap="round" fill="none"/><path d="M50.3 38.5L58.6 46.8" stroke="#e6d21e" stroke-opacity="0.11" stroke-width="0.89" stroke-linecap="round" stroke-linejoin="round" fill="none"/><path d="M52.1 40.4L56.7 45.0" stroke="#e6d21e" stroke-opacity="0.14" stroke-width="1.48" stroke-linecap="round" fill="none"/><path d="M57.8 46.1L63.6 49.2L68.8 51.6" stroke="#e6d21e" stroke-opacity="0.09" stroke-width="0.59" stroke-linecap="round" stroke-linejoin="round" fill="none"/><path d="M60.1 47.3L63.6 49.2L66.7 50.6" stroke="#e6d21e" stroke-opacity="0.11" stroke-width="0.99" stroke-linecap="round" stroke-linejoin="round" fill="none"/><path d="M40.5 48.2L40.5 56.8" stroke="#e6d21e" stroke-opacity="0.20" stroke-width="1.77" stroke-linecap="round" stroke-linejoin="round" fill="none"/><path d="M40.5 50.1L40.5 54.9" stroke="#e6d21e" stroke-opacity="0.25" stroke-width="2.96" stroke-linecap="round" fill="none"/><circle cx="60.7" cy="55.3" r="6.65" fill="#e6d21e" fill-opacity="0.13"/><circle cx="60.4" cy="55.0" r="4.19" fill="#e6d21e" fill-opacity="0.38"/><circle cx="74.2" cy="1.0" r="2.96" fill="#e6d21e" fill-opacity="0.12"/><circle cx="89.3" cy="1.2" r="2.96" fill="#e6d21e" fill-opacity="0.12"/><path d="M83.1 4.1L86.7 5.9L90.6 6.3" stroke="#e6d21e" stroke-opacity="0.09" stroke-width="0.89" stroke-linecap="round" stroke-linejoin="round" fill="none"/><path d="M84.6 4.8L86.7 5.9L89.1 6.1" stroke="#e6d21e" stroke-opacity="0.11" stroke-width="1.48" stroke-linecap="round" stroke-linejoin="round" fill="none"/><circle cx="69.5" cy="7.0" r="3.20" fill="#e6d21e" fill-opacity="0.10"/><circle cx="95.3" cy="13.7" r="3.70" fill="#e6d21e" fill-opacity="0.16"/><circle cx="104.5" cy="14.0" r="3.70" fill="#e6d21e" fill-opacity="0.20"/><circle cx="87.0" cy="18.9" r="2.96" fill="#e6d21e" fill-opacity="0.20"/><circle cx="65.1" cy="31.8" r="4.93" fill="#e6d21e" fill-opacity="0.18"/><circle cx="89.6" cy="34.2" r="3.70" fill="#e6d21e" fill-opacity="0.18"/><circle cx="80.0" cy="36.1" r="4.43" fill="#e6d21e" fill-opacity="0.18"/><circle cx="68.7" cy="40.6" r="3.94" fill="#e6d21e" fill-opacity="0.20"/><circle cx="98.6" cy="48.2" r="2.96" fill="#e6d21e" fill-opacity="0.08"/><circle cx="84.1" cy="53.6" r="2.46" fill="#e6d21e" fill-opacity="0.24"/><circle cx="114.9" cy="51.3" r="2.96" fill="#e6d21e" fill-opacity="0.16"/><circle cx="104.8" cy="54.0" r="2.71" fill="#e6d21e" fill-opacity="0.06"/><circle cx="37.9" cy="63.2" r="4.43" fill="#e6d21e" fill-opacity="0.22"/><circle cx="4.7" cy="66.4" r="3.45" fill="#e6d21e" fill-opacity="0.16"/><path d="M10.3 61.7L17.6 66.1L22.1 68.7" stroke="#e6d21e" stroke-opacity="0.15" stroke-width="1.33" stroke-linecap="round" stroke-linejoin="round" fill="none"/><path d="M13.2 63.4L17.6 66.1L20.3 67.7" stroke="#e6d21e" stroke-opacity="0.20" stroke-width="2.22" stroke-linecap="round" stroke-linejoin="round" fill="none"/><circle cx="20.6" cy="67.9" r="2.96" fill="#e6d21e" fill-opacity="0.38"/><path d="M45.3 61.7L50.7 64.6L56.2 65.8" stroke="#e6d21e" stroke-opacity="0.11" stroke-width="0.89" stroke-linecap="round" stroke-linejoin="round" fill="none"/><path d="M47.5 62.9L50.7 64.6L54.0 65.3" stroke="#e6d21e" stroke-opacity="0.14" stroke-width="1.48" stroke-linecap="round" stroke-linejoin="round" fill="none"/><circle cx="28.8" cy="70.2" r="3.70" fill="#e6d21e" fill-opacity="0.24"/><circle cx="31.9" cy="65.8" r="1.72" fill="#e6d21e" fill-opacity="0.06"/><circle cx="38.5" cy="79.3" r="2.22" fill="#e6d21e" fill-opacity="0.28"/><circle cx="0.7" cy="79.3" r="2.46" fill="#e6d21e" fill-opacity="0.08"/><circle cx="54.7" cy="88.9" r="5.17" fill="#e6d21e" fill-opacity="0.16"/><path d="M33.1 95.8L37.5 91.5L44.1 91.8L51.5 95.2" stroke="#e6d21e" stroke-opacity="0.15" stroke-width="1.03" stroke-linecap="round" stroke-linejoin="round" fill="none"/><path d="M34.9 94.1L37.5 91.5L44.1 91.8L48.5 93.9" stroke="#e6d21e" stroke-opacity="0.20" stroke-width="1.72" stroke-linecap="round" stroke-linejoin="round" fill="none"/><circle cx="52.2" cy="93.7" r="1.72" fill="#e6d21e" fill-opacity="0.12"/><circle cx="10.3" cy="93.4" r="6.16" fill="#e6d21e" fill-opacity="0.17"/><path d="M2.2 99.9L1.8 107.3" stroke="#e6d21e" stroke-opacity="0.06" stroke-width="0.74" stroke-linecap="round" stroke-linejoin="round" fill="none"/><path d="M2.1 101.5L1.9 105.7" stroke="#e6d21e" stroke-opacity="0.07" stroke-width="1.23" stroke-linecap="round" fill="none"/><path d="M8.1 109.8L16.2 107.6" stroke="#e6d21e" stroke-opacity="0.13" stroke-width="0.89" stroke-linecap="round" stroke-linejoin="round" fill="none"/><path d="M9.9 109.3L14.4 108.1" stroke="#e6d21e" stroke-opacity="0.17" stroke-width="1.48" stroke-linecap="round" fill="none"/><path d="M12.5 102.9L15.4 107.3" stroke="#e6d21e" stroke-opacity="0.09" stroke-width="0.59" stroke-linecap="round" stroke-linejoin="round" fill="none"/><path d="M13.1 103.8L14.8 106.3" stroke="#e6d21e" stroke-opacity="0.11" stroke-width="0.99" stroke-linecap="round" fill="none"/><circle cx="17.4" cy="107.9" r="2.22" fill="#e6d21e" fill-opacity="0.28"/><circle cx="81.3" cy="62.0" r="6.65" fill="#e6d21e" fill-opacity="0.17"/><path d="M87.9 61.7L86.2 69.3" stroke="#e6d21e" stroke-opacity="0.13" stroke-width="0.89" stroke-linecap="round" stroke-linejoin="round" fill="none"/><path d="M87.6 63.4L86.6 67.6" stroke="#e6d21e" stroke-opacity="0.17" stroke-width="1.48" stroke-linecap="round" fill="none"/><path d="M78.8 69.3L86.2 69.3" stroke="#e6d21e" stroke-opacity="0.13" stroke-width="0.89" stroke-linecap="round" stroke-linejoin="round" fill="none"/><path d="M80.4 69.3L84.6 69.3" stroke="#e6d21e" stroke-opacity="0.17" stroke-width="1.48" stroke-linecap="round" fill="none"/><path d="M86.2 69.3L90.1 75.8" stroke="#e6d21e" stroke-opacity="0.13" stroke-width="0.89" stroke-linecap="round" stroke-linejoin="round" fill="none"/><path d="M87.1 70.8L89.3 74.4" stroke="#e6d21e" stroke-opacity="0.17" stroke-width="1.48" stroke-linecap="round" fill="none"/><circle cx="86.2" cy="69.3" r="2.22" fill="#e6d21e" fill-opacity="0.28"/><circle cx="96.8" cy="72.3" r="3.70" fill="#e6d21e" fill-opacity="0.16"/><path d="M109.7 64.3L117.1 70.5" stroke="#e6d21e" stroke-opacity="0.15" stroke-width="1.33" stroke-linecap="round" stroke-linejoin="round" fill="none"/><path d="M111.3 65.7L115.4 69.1" stroke="#e6d21e" stroke-opacity="0.20" stroke-width="2.22" stroke-linecap="round" fill="none"/><circle cx="112.2" cy="71.2" r="4.43" fill="#e6d21e" fill-opacity="0.24"/><circle cx="71.5" cy="72.3" r="6.16" fill="#e6d21e" fill-opacity="0.18"/><circle cx="66.3" cy="79.3" r="2.96" fill="#e6d21e" fill-opacity="0.34"/><circle cx="102.6" cy="82.0" r="2.22" fill="#e6d21e" fill-opacity="0.16"/><circle cx="70.3" cy="95.5" r="3.94" fill="#e6d21e" fill-opacity="0.18"/><circle cx="112.2" cy="99.6" r="5.42" fill="#e6d21e" fill-opacity="0.17"/><circle cx="100.4" cy="104.3" r="6.16" fill="#e6d21e" fill-opacity="0.18"/><circle cx="91.6" cy="107.6" r="3.45" fill="#e6d21e" fill-opacity="0.30"/><path d="M91.6 103.6L91.6 107.6" stroke="#e6d21e" stroke-opacity="0.11" stroke-width="0.89" stroke-linecap="round" stroke-linejoin="round" fill="none"/><path d="M91.6 104.5L91.6 106.7" stroke="#e6d21e" stroke-opacity="0.14" stroke-width="1.48" stroke-linecap="round" fill="none"/><path d="M60.0 66.1L65.9 66.8" stroke="#e6d21e" stroke-opacity="0.07" stroke-width="0.59" stroke-linecap="round" stroke-linejoin="round" fill="none"/><path d="M61.3 66.3L64.6 66.7" stroke="#e6d21e" stroke-opacity="0.08" stroke-width="0.99" stroke-linecap="round" fill="none"/></g><g filter="url(#bS)"><path d="M6.8 3.4L5.8 9.9" stroke="#e6d21e" stroke-opacity="0.16" stroke-width="0.70" stroke-linecap="round" stroke-linejoin="round" fill="none"/><path d="M6.6 4.8L6.0 8.5" stroke="#e6d21e" stroke-opacity="0.20" stroke-width="1.16" stroke-linecap="round" fill="none"/><circle cx="15.6" cy="1.0" r="2.90" fill="#e6d21e" fill-opacity="0.39"/><circle cx="15.6" cy="1.0" r="2.09" fill="none" stroke="#e6d21e" stroke-opacity="0.31" stroke-width="1.45"/><circle cx="23.1" cy="11.1" r="2.32" fill="#e6d21e" fill-opacity="0.19"/><path d="M31.1 7.0L36.1 10.6" stroke="#e6d21e" stroke-opacity="0.42" stroke-width="1.04" stroke-linecap="round" stroke-linejoin="round" fill="none"/><path d="M32.2 7.8L35.0 9.8" stroke="#e6d21e" stroke-opacity="0.53" stroke-width="1.74" stroke-linecap="round" fill="none"/><path d="M38.7 8.2L44.8 15.0" stroke="#e6d21e" stroke-opacity="0.42" stroke-width="1.04" stroke-linecap="round" stroke-linejoin="round" fill="none"/><path d="M40.1 9.7L43.5 13.5" stroke="#e6d21e" stroke-opacity="0.53" stroke-width="1.74" stroke-linecap="round" fill="none"/><path d="M42.2 5.6L39.8 9.9" stroke="#e6d21e" stroke-opacity="0.31" stroke-width="0.52" stroke-linecap="round" stroke-linejoin="round" fill="none"/><path d="M41.7 6.5L40.3 9.0" stroke="#e6d21e" stroke-opacity="0.40" stroke-width="0.87" stroke-linecap="round" fill="none"/><path d="M22.8 21.2L25.3 28.7" stroke="#e6d21e" stroke-opacity="0.44" stroke-width="0.96" stroke-linecap="round" stroke-linejoin="round" fill="none"/><path d="M23.4 22.9L24.8 27.1" stroke="#e6d21e" stroke-opacity="0.57" stroke-width="1.59" stroke-linecap="round" fill="none"/><circle cx="42.8" cy="22.9" r="1.74" fill="#e6d21e" fill-opacity="0.76"/><path d="M43.4 23.7L45.1 29.4" stroke="#e6d21e" stroke-opacity="0.42" stroke-width="0.96" stroke-linecap="round" stroke-linejoin="round" fill="none"/><path d="M43.8 24.9L44.7 28.2" stroke="#e6d21e" stroke-opacity="0.53" stroke-width="1.59" stroke-linecap="round" fill="none"/><path d="M44.8 23.7L46.6 18.3" stroke="#e6d21e" stroke-opacity="0.26" stroke-width="0.35" stroke-linecap="round" stroke-linejoin="round" fill="none"/><path d="M45.2 22.5L46.2 19.5" stroke="#e6d21e" stroke-opacity="0.33" stroke-width="0.58" stroke-linecap="round" fill="none"/><circle cx="36.0" cy="34.8" r="3.33" fill="#e6d21e" fill-opacity="0.48"/><circle cx="36.0" cy="34.8" r="2.40" fill="none" stroke="#e6d21e" stroke-opacity="0.39" stroke-width="1.67"/><circle cx="36.0" cy="34.8" r="2.03" fill="#e6d21e" fill-opacity="0.47"/><path d="M45.5 35.9L57.8 32.3" stroke="#e6d21e" stroke-opacity="0.18" stroke-width="0.35" stroke-linecap="round" stroke-linejoin="round" fill="none"/><path d="M48.2 35.1L55.1 33.1" stroke="#e6d21e" stroke-opacity="0.23" stroke-width="0.58" stroke-linecap="round" fill="none"/><circle cx="45.5" cy="35.9" r="1.16" fill="#e6d21e" fill-opacity="0.85"/><path d="M36.1 41.0L34.7 49.0" stroke="#e6d21e" stroke-opacity="0.42" stroke-width="0.87" stroke-linecap="round" stroke-linejoin="round" fill="none"/><path d="M35.8 42.8L35.0 47.2" stroke="#e6d21e" stroke-opacity="0.53" stroke-width="1.45" stroke-linecap="round" fill="none"/><circle cx="12.7" cy="43.5" r="2.03" fill="#e6d21e" fill-opacity="0.28"/><path d="M43.1 40.7L48.9 50.1" stroke="#e6d21e" stroke-opacity="0.31" stroke-width="0.70" stroke-linecap="round" stroke-linejoin="round" fill="none"/><path d="M44.4 42.8L47.6 48.0" stroke="#e6d21e" stroke-opacity="0.40" stroke-width="1.16" stroke-linecap="round" fill="none"/><path d="M50.3 38.5L58.6 46.8" stroke="#e6d21e" stroke-opacity="0.26" stroke-width="0.52" stroke-linecap="round" stroke-linejoin="round" fill="none"/><path d="M52.1 40.4L56.7 45.0" stroke="#e6d21e" stroke-opacity="0.33" stroke-width="0.87" stroke-linecap="round" fill="none"/><path d="M57.8 46.1L63.6 49.2L68.8 51.6" stroke="#e6d21e" stroke-opacity="0.21" stroke-width="0.35" stroke-linecap="round" stroke-linejoin="round" fill="none"/><path d="M60.1 47.3L63.6 49.2L66.7 50.6" stroke="#e6d21e" stroke-opacity="0.27" stroke-width="0.58" stroke-linecap="round" stroke-linejoin="round" fill="none"/><path d="M40.5 48.2L40.5 56.8" stroke="#e6d21e" stroke-opacity="0.47" stroke-width="1.04" stroke-linecap="round" stroke-linejoin="round" fill="none"/><path d="M40.5 50.1L40.5 54.9" stroke="#e6d21e" stroke-opacity="0.60" stroke-width="1.74" stroke-linecap="round" fill="none"/><circle cx="60.7" cy="55.3" r="3.91" fill="#e6d21e" fill-opacity="0.21"/><circle cx="60.7" cy="55.3" r="2.82" fill="none" stroke="#e6d21e" stroke-opacity="0.17" stroke-width="1.96"/><circle cx="60.4" cy="55.0" r="2.46" fill="#e6d21e" fill-opacity="0.90"/><circle cx="74.2" cy="1.0" r="1.74" fill="#e6d21e" fill-opacity="0.28"/><circle cx="89.3" cy="1.2" r="1.74" fill="#e6d21e" fill-opacity="0.28"/><path d="M83.1 4.1L86.7 5.9L90.6 6.3" stroke="#e6d21e" stroke-opacity="0.21" stroke-width="0.52" stroke-linecap="round" stroke-linejoin="round" fill="none"/><path d="M84.6 4.8L86.7 5.9L89.1 6.1" stroke="#e6d21e" stroke-opacity="0.27" stroke-width="0.87" stroke-linecap="round" stroke-linejoin="round" fill="none"/><circle cx="69.5" cy="7.0" r="1.88" fill="#e6d21e" fill-opacity="0.24"/><circle cx="95.3" cy="13.7" r="2.17" fill="#e6d21e" fill-opacity="0.38"/><circle cx="104.5" cy="14.0" r="2.17" fill="#e6d21e" fill-opacity="0.47"/><circle cx="87.0" cy="18.9" r="1.74" fill="#e6d21e" fill-opacity="0.47"/><circle cx="65.1" cy="31.8" r="2.90" fill="#e6d21e" fill-opacity="0.29"/><circle cx="65.1" cy="31.8" r="2.09" fill="none" stroke="#e6d21e" stroke-opacity="0.24" stroke-width="1.45"/><circle cx="89.6" cy="34.2" r="2.17" fill="#e6d21e" fill-opacity="0.43"/><circle cx="80.0" cy="36.1" r="2.61" fill="#e6d21e" fill-opacity="0.29"/><circle cx="80.0" cy="36.1" r="1.88" fill="none" stroke="#e6d21e" stroke-opacity="0.24" stroke-width="1.30"/><circle cx="68.7" cy="40.6" r="2.32" fill="#e6d21e" fill-opacity="0.47"/><circle cx="98.6" cy="48.2" r="1.74" fill="#e6d21e" fill-opacity="0.19"/><circle cx="84.1" cy="53.6" r="1.45" fill="#e6d21e" fill-opacity="0.57"/><circle cx="114.9" cy="51.3" r="1.74" fill="#e6d21e" fill-opacity="0.38"/><circle cx="104.8" cy="54.0" r="1.59" fill="#e6d21e" fill-opacity="0.14"/><circle cx="37.9" cy="63.2" r="2.61" fill="#e6d21e" fill-opacity="0.36"/><circle cx="37.9" cy="63.2" r="1.88" fill="none" stroke="#e6d21e" stroke-opacity="0.29" stroke-width="1.30"/><circle cx="4.7" cy="66.4" r="2.03" fill="#e6d21e" fill-opacity="0.38"/><path d="M10.3 61.7L17.6 66.1L22.1 68.7" stroke="#e6d21e" stroke-opacity="0.37" stroke-width="0.78" stroke-linecap="round" stroke-linejoin="round" fill="none"/><path d="M13.2 63.4L17.6 66.1L20.3 67.7" stroke="#e6d21e" stroke-opacity="0.47" stroke-width="1.30" stroke-linecap="round" stroke-linejoin="round" fill="none"/><circle cx="20.6" cy="67.9" r="1.74" fill="#e6d21e" fill-opacity="0.90"/><path d="M45.3 61.7L50.7 64.6L56.2 65.8" stroke="#e6d21e" stroke-opacity="0.26" stroke-width="0.52" stroke-linecap="round" stroke-linejoin="round" fill="none"/><path d="M47.5 62.9L50.7 64.6L54.0 65.3" stroke="#e6d21e" stroke-opacity="0.33" stroke-width="0.87" stroke-linecap="round" stroke-linejoin="round" fill="none"/><circle cx="28.8" cy="70.2" r="2.17" fill="#e6d21e" fill-opacity="0.57"/><circle cx="31.9" cy="65.8" r="1.01" fill="#e6d21e" fill-opacity="0.14"/><circle cx="38.5" cy="79.3" r="1.30" fill="#e6d21e" fill-opacity="0.66"/><circle cx="0.7" cy="79.3" r="1.45" fill="#e6d21e" fill-opacity="0.19"/><circle cx="54.7" cy="88.9" r="3.04" fill="#e6d21e" fill-opacity="0.26"/><circle cx="54.7" cy="88.9" r="2.19" fill="none" stroke="#e6d21e" stroke-opacity="0.21" stroke-width="1.52"/><path d="M33.1 95.8L37.5 91.5L44.1 91.8L51.5 95.2" stroke="#e6d21e" stroke-opacity="0.37" stroke-width="0.61" stroke-linecap="round" stroke-linejoin="round" fill="none"/><path d="M34.9 94.1L37.5 91.5L44.1 91.8L48.5 93.9" stroke="#e6d21e" stroke-opacity="0.47" stroke-width="1.01" stroke-linecap="round" stroke-linejoin="round" fill="none"/><circle cx="52.2" cy="93.7" r="1.01" fill="#e6d21e" fill-opacity="0.28"/><circle cx="10.3" cy="93.4" r="3.62" fill="#e6d21e" fill-opacity="0.27"/><circle cx="10.3" cy="93.4" r="2.61" fill="none" stroke="#e6d21e" stroke-opacity="0.22" stroke-width="1.81"/><path d="M2.2 99.9L1.8 107.3" stroke="#e6d21e" stroke-opacity="0.13" stroke-width="0.43" stroke-linecap="round" stroke-linejoin="round" fill="none"/><path d="M2.1 101.5L1.9 105.7" stroke="#e6d21e" stroke-opacity="0.17" stroke-width="0.72" stroke-linecap="round" fill="none"/><path d="M8.1 109.8L16.2 107.6" stroke="#e6d21e" stroke-opacity="0.31" stroke-width="0.52" stroke-linecap="round" stroke-linejoin="round" fill="none"/><path d="M9.9 109.3L14.4 108.1" stroke="#e6d21e" stroke-opacity="0.40" stroke-width="0.87" stroke-linecap="round" fill="none"/><path d="M12.5 102.9L15.4 107.3" stroke="#e6d21e" stroke-opacity="0.21" stroke-width="0.35" stroke-linecap="round" stroke-linejoin="round" fill="none"/><path d="M13.1 103.8L14.8 106.3" stroke="#e6d21e" stroke-opacity="0.27" stroke-width="0.58" stroke-linecap="round" fill="none"/><circle cx="17.4" cy="107.9" r="1.30" fill="#e6d21e" fill-opacity="0.66"/><circle cx="81.3" cy="62.0" r="3.91" fill="#e6d21e" fill-opacity="0.27"/><circle cx="81.3" cy="62.0" r="2.82" fill="none" stroke="#e6d21e" stroke-opacity="0.22" stroke-width="1.96"/><path d="M87.9 61.7L86.2 69.3" stroke="#e6d21e" stroke-opacity="0.31" stroke-width="0.52" stroke-linecap="round" stroke-linejoin="round" fill="none"/><path d="M87.6 63.4L86.6 67.6" stroke="#e6d21e" stroke-opacity="0.40" stroke-width="0.87" stroke-linecap="round" fill="none"/><path d="M78.8 69.3L86.2 69.3" stroke="#e6d21e" stroke-opacity="0.31" stroke-width="0.52" stroke-linecap="round" stroke-linejoin="round" fill="none"/><path d="M80.4 69.3L84.6 69.3" stroke="#e6d21e" stroke-opacity="0.40" stroke-width="0.87" stroke-linecap="round" fill="none"/><path d="M86.2 69.3L90.1 75.8" stroke="#e6d21e" stroke-opacity="0.31" stroke-width="0.52" stroke-linecap="round" stroke-linejoin="round" fill="none"/><path d="M87.1 70.8L89.3 74.4" stroke="#e6d21e" stroke-opacity="0.40" stroke-width="0.87" stroke-linecap="round" fill="none"/><circle cx="86.2" cy="69.3" r="1.30" fill="#e6d21e" fill-opacity="0.66"/><circle cx="96.8" cy="72.3" r="2.17" fill="#e6d21e" fill-opacity="0.38"/><path d="M109.7 64.3L117.1 70.5" stroke="#e6d21e" stroke-opacity="0.37" stroke-width="0.78" stroke-linecap="round" stroke-linejoin="round" fill="none"/><path d="M111.3 65.7L115.4 69.1" stroke="#e6d21e" stroke-opacity="0.47" stroke-width="1.30" stroke-linecap="round" fill="none"/><circle cx="112.2" cy="71.2" r="2.61" fill="#e6d21e" fill-opacity="0.39"/><circle cx="112.2" cy="71.2" r="1.88" fill="none" stroke="#e6d21e" stroke-opacity="0.31" stroke-width="1.30"/><circle cx="71.5" cy="72.3" r="3.62" fill="#e6d21e" fill-opacity="0.29"/><circle cx="71.5" cy="72.3" r="2.61" fill="none" stroke="#e6d21e" stroke-opacity="0.24" stroke-width="1.81"/><circle cx="66.3" cy="79.3" r="1.74" fill="#e6d21e" fill-opacity="0.81"/><circle cx="102.6" cy="82.0" r="1.30" fill="#e6d21e" fill-opacity="0.38"/><circle cx="70.3" cy="95.5" r="2.32" fill="#e6d21e" fill-opacity="0.43"/><circle cx="112.2" cy="99.6" r="3.19" fill="#e6d21e" fill-opacity="0.27"/><circle cx="112.2" cy="99.6" r="2.30" fill="none" stroke="#e6d21e" stroke-opacity="0.22" stroke-width="1.59"/><circle cx="100.4" cy="104.3" r="3.62" fill="#e6d21e" fill-opacity="0.29"/><circle cx="100.4" cy="104.3" r="2.61" fill="none" stroke="#e6d21e" stroke-opacity="0.24" stroke-width="1.81"/><circle cx="91.6" cy="107.6" r="2.03" fill="#e6d21e" fill-opacity="0.71"/><path d="M91.6 103.6L91.6 107.6" stroke="#e6d21e" stroke-opacity="0.26" stroke-width="0.52" stroke-linecap="round" stroke-linejoin="round" fill="none"/><path d="M91.6 104.5L91.6 106.7" stroke="#e6d21e" stroke-opacity="0.33" stroke-width="0.87" stroke-linecap="round" fill="none"/><path d="M60.0 66.1L65.9 66.8" stroke="#e6d21e" stroke-opacity="0.16" stroke-width="0.35" stroke-linecap="round" stroke-linejoin="round" fill="none"/><path d="M61.3 66.3L64.6 66.7" stroke="#e6d21e" stroke-opacity="0.20" stroke-width="0.58" stroke-linecap="round" fill="none"/></g></g></g></g><rect x="0.6" y="0.6" width="117.9" height="112.4" fill="none" stroke="#000" stroke-width="1.2"/></g>
<clipPath id="c3"><rect x="0" y="0" width="119.6" height="112.3"/></clipPath><g transform="translate(18.0 260.2)"><rect x="0" y="0" width="119.6" height="112.3" fill="#110f0b"/><g clip-path="url(#c3)"><g transform="translate(1.1 -0.5)"><g filter="url(#bH)"><circle cx="6.8" cy="3.0" r="3.1" fill="#2c2a90" fill-opacity="0.32"/><circle cx="15.6" cy="0.5" r="3.1" fill="#2c2a90" fill-opacity="0.32"/><circle cx="33.0" cy="0.5" r="3.1" fill="#2c2a90" fill-opacity="0.32"/><circle cx="23.6" cy="10.8" r="3.1" fill="#2c2a90" fill-opacity="0.32"/><circle cx="35.7" cy="9.6" r="3.1" fill="#2c2a90" fill-opacity="0.32"/><circle cx="39.2" cy="10.2" r="3.1" fill="#2c2a90" fill-opacity="0.32"/><circle cx="45.0" cy="13.1" r="3.1" fill="#2c2a90" fill-opacity="0.32"/><circle cx="23.6" cy="20.8" r="3.1" fill="#2c2a90" fill-opacity="0.32"/><circle cx="24.1" cy="26.7" r="3.1" fill="#2c2a90" fill-opacity="0.32"/><circle cx="43.1" cy="24.7" r="3.1" fill="#2c2a90" fill-opacity="0.32"/><circle cx="45.1" cy="27.3" r="3.1" fill="#2c2a90" fill-opacity="0.32"/><circle cx="39.0" cy="34.5" r="3.1" fill="#2c2a90" fill-opacity="0.32"/><circle cx="46.4" cy="35.1" r="3.1" fill="#2c2a90" fill-opacity="0.32"/><circle cx="36.1" cy="41.7" r="3.1" fill="#2c2a90" fill-opacity="0.32"/><circle cx="10.1" cy="45.6" r="3.1" fill="#2c2a90" fill-opacity="0.32"/><circle cx="46.8" cy="46.4" r="3.1" fill="#2c2a90" fill-opacity="0.32"/><circle cx="57.8" cy="46.1" r="3.1" fill="#2c2a90" fill-opacity="0.32"/><circle cx="40.5" cy="55.1" r="3.1" fill="#2c2a90" fill-opacity="0.32"/><circle cx="60.2" cy="54.8" r="3.1" fill="#2c2a90" fill-opacity="0.32"/><circle cx="74.2" cy="0.5" r="3.1" fill="#2c2a90" fill-opacity="0.32"/><circle cx="89.3" cy="1.0" r="3.1" fill="#2c2a90" fill-opacity="0.32"/><circle cx="82.8" cy="3.8" r="3.1" fill="#2c2a90" fill-opacity="0.32"/><circle cx="69.5" cy="6.7" r="3.1" fill="#2c2a90" fill-opacity="0.32"/><circle cx="96.1" cy="13.7" r="3.1" fill="#2c2a90" fill-opacity="0.32"/><circle cx="103.8" cy="14.4" r="3.1" fill="#2c2a90" fill-opacity="0.32"/><circle cx="88.0" cy="18.9" r="3.1" fill="#2c2a90" fill-opacity="0.32"/><circle cx="65.3" cy="31.9" r="3.1" fill="#2c2a90" fill-opacity="0.32"/><circle cx="89.9" cy="33.5" r="3.1" fill="#2c2a90" fill-opacity="0.32"/><circle cx="78.8" cy="36.7" r="3.1" fill="#2c2a90" fill-opacity="0.32"/><circle cx="69.1" cy="40.0" r="3.1" fill="#2c2a90" fill-opacity="0.32"/><circle cx="98.6" cy="48.2" r="3.1" fill="#2c2a90" fill-opacity="0.32"/><circle cx="84.1" cy="52.1" r="3.1" fill="#2c2a90" fill-opacity="0.32"/><circle cx="116.1" cy="51.1" r="3.1" fill="#2c2a90" fill-opacity="0.32"/><circle cx="104.8" cy="54.0" r="3.1" fill="#2c2a90" fill-opacity="0.32"/><circle cx="38.7" cy="64.5" r="3.1" fill="#2c2a90" fill-opacity="0.32"/><circle cx="6.8" cy="67.4" r="3.1" fill="#2c2a90" fill-opacity="0.32"/><circle cx="17.6" cy="66.8" r="3.1" fill="#2c2a90" fill-opacity="0.32"/><circle cx="55.7" cy="65.9" r="3.1" fill="#2c2a90" fill-opacity="0.32"/><circle cx="29.6" cy="71.3" r="3.1" fill="#2c2a90" fill-opacity="0.32"/><circle cx="38.3" cy="77.5" r="3.1" fill="#2c2a90" fill-opacity="0.32"/><circle cx="1.2" cy="80.1" r="3.1" fill="#2c2a90" fill-opacity="0.32"/><circle cx="55.2" cy="87.6" r="3.1" fill="#2c2a90" fill-opacity="0.32"/><circle cx="25.3" cy="90.2" r="3.1" fill="#2c2a90" fill-opacity="0.32"/><circle cx="40.5" cy="90.9" r="3.1" fill="#2c2a90" fill-opacity="0.32"/><circle cx="11.1" cy="94.8" r="3.1" fill="#2c2a90" fill-opacity="0.32"/><circle cx="44.2" cy="98.0" r="3.1" fill="#2c2a90" fill-opacity="0.32"/><circle cx="2.2" cy="108.6" r="3.1" fill="#2c2a90" fill-opacity="0.32"/><circle cx="16.3" cy="109.0" r="3.1" fill="#2c2a90" fill-opacity="0.32"/><circle cx="79.2" cy="61.9" r="3.1" fill="#2c2a90" fill-opacity="0.32"/><circle cx="86.0" cy="69.5" r="3.1" fill="#2c2a90" fill-opacity="0.32"/><circle cx="96.1" cy="71.3" r="3.1" fill="#2c2a90" fill-opacity="0.32"/><circle cx="112.3" cy="71.0" r="3.1" fill="#2c2a90" fill-opacity="0.32"/><circle cx="115.4" cy="69.1" r="3.1" fill="#2c2a90" fill-opacity="0.32"/><circle cx="69.4" cy="72.1" r="3.1" fill="#2c2a90" fill-opacity="0.32"/><circle cx="64.8" cy="77.9" r="3.1" fill="#2c2a90" fill-opacity="0.32"/><circle cx="102.8" cy="81.8" r="3.1" fill="#2c2a90" fill-opacity="0.32"/><circle cx="70.4" cy="96.3" r="3.1" fill="#2c2a90" fill-opacity="0.32"/><circle cx="111.6" cy="98.6" r="3.1" fill="#2c2a90" fill-opacity="0.32"/><circle cx="101.5" cy="103.2" r="3.1" fill="#2c2a90" fill-opacity="0.32"/><circle cx="91.8" cy="108.6" r="3.1" fill="#2c2a90" fill-opacity="0.32"/></g><g filter="url(#bN)"><ellipse cx="6.8" cy="3.0" rx="2.05" ry="1.27" transform="rotate(99 6.8 3.0)" fill="#6a64ea" fill-opacity="1.0"/><ellipse cx="15.6" cy="0.5" rx="1.76" ry="1.27" transform="rotate(27 15.6 0.5)" fill="#6a64ea" fill-opacity="1.0"/><ellipse cx="33.0" cy="0.5" rx="1.64" ry="1.40" transform="rotate(117 33.0 0.5)" fill="#6a64ea" fill-opacity="1.0"/><ellipse cx="23.6" cy="10.8" rx="1.85" ry="1.51" transform="rotate(13 23.6 10.8)" fill="#6a64ea" fill-opacity="1.0"/><ellipse cx="35.7" cy="9.6" rx="2.05" ry="1.27" transform="rotate(36 35.7 9.6)" fill="#6a64ea" fill-opacity="1.0"/><ellipse cx="39.2" cy="10.2" rx="2.05" ry="1.27" transform="rotate(120 39.2 10.2)" fill="#6a64ea" fill-opacity="1.0"/><ellipse cx="45.0" cy="13.1" rx="2.05" ry="1.27" transform="rotate(48 45.0 13.1)" fill="#6a64ea" fill-opacity="1.0"/><ellipse cx="23.6" cy="20.8" rx="2.05" ry="1.27" transform="rotate(72 23.6 20.8)" fill="#6a64ea" fill-opacity="1.0"/><ellipse cx="24.1" cy="26.7" rx="2.05" ry="1.27" transform="rotate(72 24.1 26.7)" fill="#6a64ea" fill-opacity="1.0"/><ellipse cx="43.1" cy="24.7" rx="2.05" ry="1.27" transform="rotate(73 43.1 24.7)" fill="#6a64ea" fill-opacity="1.0"/><ellipse cx="45.1" cy="27.3" rx="2.05" ry="1.27" transform="rotate(73 45.1 27.3)" fill="#6a64ea" fill-opacity="1.0"/><ellipse cx="39.0" cy="34.5" rx="1.66" ry="1.42" transform="rotate(16 39.0 34.5)" fill="#6a64ea" fill-opacity="1.0"/><ellipse cx="46.4" cy="35.1" rx="2.05" ry="1.27" transform="rotate(-16 46.4 35.1)" fill="#6a64ea" fill-opacity="1.0"/><ellipse cx="36.1" cy="41.7" rx="2.05" ry="1.27" transform="rotate(100 36.1 41.7)" fill="#6a64ea" fill-opacity="1.0"/><ellipse cx="10.1" cy="45.6" rx="1.61" ry="1.44" transform="rotate(22 10.1 45.6)" fill="#6a64ea" fill-opacity="1.0"/><ellipse cx="46.8" cy="46.4" rx="2.05" ry="1.27" transform="rotate(58 46.8 46.4)" fill="#6a64ea" fill-opacity="1.0"/><ellipse cx="57.8" cy="46.1" rx="2.05" ry="1.27" transform="rotate(45 57.8 46.1)" fill="#6a64ea" fill-opacity="1.0"/><ellipse cx="40.5" cy="55.1" rx="2.05" ry="1.27" transform="rotate(90 40.5 55.1)" fill="#6a64ea" fill-opacity="1.0"/><ellipse cx="60.2" cy="54.8" rx="1.70" ry="1.07" transform="rotate(104 60.2 54.8)" fill="#6a64ea" fill-opacity="1.0"/><ellipse cx="74.2" cy="0.5" rx="1.74" ry="1.34" transform="rotate(71 74.2 0.5)" fill="#6a64ea" fill-opacity="1.0"/><ellipse cx="89.3" cy="1.0" rx="1.75" ry="1.18" transform="rotate(176 89.3 1.0)" fill="#6a64ea" fill-opacity="1.0"/><ellipse cx="82.8" cy="3.8" rx="2.05" ry="1.27" transform="rotate(26 82.8 3.8)" fill="#6a64ea" fill-opacity="1.0"/><ellipse cx="69.5" cy="6.7" rx="1.94" ry="1.24" transform="rotate(155 69.5 6.7)" fill="#6a64ea" fill-opacity="1.0"/><ellipse cx="96.1" cy="13.7" rx="1.99" ry="1.74" transform="rotate(52 96.1 13.7)" fill="#6a64ea" fill-opacity="1.0"/><ellipse cx="103.8" cy="14.4" rx="1.79" ry="1.18" transform="rotate(26 103.8 14.4)" fill="#6a64ea" fill-opacity="1.0"/><ellipse cx="88.0" cy="18.9" rx="1.79" ry="1.26" transform="rotate(21 88.0 18.9)" fill="#6a64ea" fill-opacity="1.0"/><ellipse cx="65.3" cy="31.9" rx="1.64" ry="1.23" transform="rotate(56 65.3 31.9)" fill="#6a64ea" fill-opacity="1.0"/><ellipse cx="89.9" cy="33.5" rx="1.64" ry="1.49" transform="rotate(147 89.9 33.5)" fill="#6a64ea" fill-opacity="1.0"/><ellipse cx="78.8" cy="36.7" rx="1.74" ry="1.12" transform="rotate(33 78.8 36.7)" fill="#6a64ea" fill-opacity="1.0"/><ellipse cx="69.1" cy="40.0" rx="1.71" ry="1.31" transform="rotate(105 69.1 40.0)" fill="#6a64ea" fill-opacity="1.0"/><ellipse cx="98.6" cy="48.2" rx="1.93" ry="1.55" transform="rotate(115 98.6 48.2)" fill="#6a64ea" fill-opacity="1.0"/><ellipse cx="84.1" cy="52.1" rx="1.67" ry="1.52" transform="rotate(67 84.1 52.1)" fill="#6a64ea" fill-opacity="1.0"/><ellipse cx="116.1" cy="51.1" rx="1.61" ry="1.44" transform="rotate(99 116.1 51.1)" fill="#6a64ea" fill-opacity="1.0"/><ellipse cx="104.8" cy="54.0" rx="1.98" ry="1.79" transform="rotate(11 104.8 54.0)" fill="#6a64ea" fill-opacity="1.0"/><ellipse cx="38.7" cy="64.5" rx="1.81" ry="1.29" transform="rotate(11 38.7 64.5)" fill="#6a64ea" fill-opacity="1.0"/><ellipse cx="6.8" cy="67.4" rx="1.66" ry="1.26" transform="rotate(37 6.8 67.4)" fill="#6a64ea" fill-opacity="1.0"/><ellipse cx="17.6" cy="66.8" rx="2.05" ry="1.27" transform="rotate(31 17.6 66.8)" fill="#6a64ea" fill-opacity="1.0"/><ellipse cx="55.7" cy="65.9" rx="2.05" ry="1.27" transform="rotate(12 55.7 65.9)" fill="#6a64ea" fill-opacity="1.0"/><ellipse cx="29.6" cy="71.3" rx="1.81" ry="1.70" transform="rotate(57 29.6 71.3)" fill="#6a64ea" fill-opacity="1.0"/><ellipse cx="38.3" cy="77.5" rx="1.99" ry="1.33" transform="rotate(105 38.3 77.5)" fill="#6a64ea" fill-opacity="1.0"/><ellipse cx="1.2" cy="80.1" rx="1.94" ry="1.32" transform="rotate(82 1.2 80.1)" fill="#6a64ea" fill-opacity="1.0"/><ellipse cx="55.2" cy="87.6" rx="1.88" ry="1.31" transform="rotate(54 55.2 87.6)" fill="#6a64ea" fill-opacity="1.0"/><ellipse cx="25.3" cy="90.2" rx="1.71" ry="1.19" transform="rotate(143 25.3 90.2)" fill="#6a64ea" fill-opacity="1.0"/><ellipse cx="40.5" cy="90.9" rx="2.05" ry="1.27" transform="rotate(3 40.5 90.9)" fill="#6a64ea" fill-opacity="1.0"/><ellipse cx="11.1" cy="94.8" rx="1.67" ry="1.36" transform="rotate(44 11.1 94.8)" fill="#6a64ea" fill-opacity="1.0"/><ellipse cx="44.2" cy="98.0" rx="1.91" ry="1.35" transform="rotate(103 44.2 98.0)" fill="#6a64ea" fill-opacity="1.0"/><ellipse cx="2.2" cy="108.6" rx="2.05" ry="1.27" transform="rotate(93 2.2 108.6)" fill="#6a64ea" fill-opacity="1.0"/><ellipse cx="16.3" cy="109.0" rx="2.05" ry="1.27" transform="rotate(-15 16.3 109.0)" fill="#6a64ea" fill-opacity="1.0"/><ellipse cx="79.2" cy="61.9" rx="1.73" ry="1.29" transform="rotate(131 79.2 61.9)" fill="#6a64ea" fill-opacity="1.0"/><ellipse cx="86.0" cy="69.5" rx="2.05" ry="1.27" transform="rotate(0 86.0 69.5)" fill="#6a64ea" fill-opacity="1.0"/><ellipse cx="96.1" cy="71.3" rx="1.92" ry="1.80" transform="rotate(176 96.1 71.3)" fill="#6a64ea" fill-opacity="1.0"/><ellipse cx="112.3" cy="71.0" rx="1.99" ry="1.69" transform="rotate(21 112.3 71.0)" fill="#6a64ea" fill-opacity="1.0"/><ellipse cx="115.4" cy="69.1" rx="2.05" ry="1.27" transform="rotate(40 115.4 69.1)" fill="#6a64ea" fill-opacity="1.0"/><ellipse cx="69.4" cy="72.1" rx="1.92" ry="1.58" transform="rotate(136 69.4 72.1)" fill="#6a64ea" fill-opacity="1.0"/><ellipse cx="64.8" cy="77.9" rx="1.92" ry="1.62" transform="rotate(27 64.8 77.9)" fill="#6a64ea" fill-opacity="1.0"/><ellipse cx="102.8" cy="81.8" rx="1.89" ry="1.21" transform="rotate(88 102.8 81.8)" fill="#6a64ea" fill-opacity="1.0"/><ellipse cx="70.4" cy="96.3" rx="1.69" ry="1.55" transform="rotate(7 70.4 96.3)" fill="#6a64ea" fill-opacity="1.0"/><ellipse cx="111.6" cy="98.6" rx="1.81" ry="1.59" transform="rotate(120 111.6 98.6)" fill="#6a64ea" fill-opacity="1.0"/><ellipse cx="101.5" cy="103.2" rx="1.74" ry="1.58" transform="rotate(138 101.5 103.2)" fill="#6a64ea" fill-opacity="1.0"/><ellipse cx="91.8" cy="108.6" rx="2.05" ry="1.27" transform="rotate(90 91.8 108.6)" fill="#6a64ea" fill-opacity="1.0"/></g><g style="mix-blend-mode:screen"><g filter="url(#bG)"><path d="M6.8 3.4L5.8 9.9" stroke="#f0ad19" stroke-opacity="0.08" stroke-width="1.66" stroke-linecap="round" stroke-linejoin="round" fill="none"/><path d="M6.6 4.8L6.0 8.5" stroke="#f0ad19" stroke-opacity="0.10" stroke-width="2.76" stroke-linecap="round" fill="none"/><circle cx="15.6" cy="1.0" r="4.93" fill="#f0b419" fill-opacity="0.29"/><circle cx="23.1" cy="11.1" r="3.94" fill="#f09f19" fill-opacity="0.10"/><path d="M31.1 7.0L36.1 10.6" stroke="#f09119" stroke-opacity="0.21" stroke-width="2.48" stroke-linecap="round" stroke-linejoin="round" fill="none"/><path d="M32.2 7.8L35.0 9.8" stroke="#f09119" stroke-opacity="0.27" stroke-width="4.14" stroke-linecap="round" fill="none"/><path d="M38.7 8.2L44.8 15.0" stroke="#f08e19" stroke-opacity="0.21" stroke-width="2.48" stroke-linecap="round" stroke-linejoin="round" fill="none"/><path d="M40.1 9.7L43.5 13.5" stroke="#f08e19" stroke-opacity="0.27" stroke-width="4.14" stroke-linecap="round" fill="none"/><path d="M42.2 5.6L39.8 9.9" stroke="#f09319" stroke-opacity="0.16" stroke-width="1.24" stroke-linecap="round" stroke-linejoin="round" fill="none"/><path d="M41.7 6.5L40.3 9.0" stroke="#f09319" stroke-opacity="0.20" stroke-width="2.07" stroke-linecap="round" fill="none"/><path d="M22.8 21.2L25.3 28.7" stroke="#f08b19" stroke-opacity="0.23" stroke-width="2.28" stroke-linecap="round" stroke-linejoin="round" fill="none"/><path d="M23.4 22.9L24.8 27.1" stroke="#f08b19" stroke-opacity="0.29" stroke-width="3.79" stroke-linecap="round" fill="none"/><circle cx="42.8" cy="22.9" r="2.96" fill="#f09819" fill-opacity="0.39"/><path d="M43.4 23.7L45.1 29.4" stroke="#f08619" stroke-opacity="0.23" stroke-width="2.28" stroke-linecap="round" stroke-linejoin="round" fill="none"/><path d="M43.8 24.9L44.7 28.2" stroke="#f08619" stroke-opacity="0.29" stroke-width="3.79" stroke-linecap="round" fill="none"/><path d="M44.8 23.7L46.6 18.3" stroke="#f09519" stroke-opacity="0.13" stroke-width="0.83" stroke-linecap="round" stroke-linejoin="round" fill="none"/><path d="M45.2 22.5L46.2 19.5" stroke="#f09519" stroke-opacity="0.17" stroke-width="1.38" stroke-linecap="round" fill="none"/><circle cx="36.0" cy="34.8" r="5.67" fill="#f0a819" fill-opacity="0.36"/><circle cx="36.0" cy="34.8" r="3.45" fill="#f0b419" fill-opacity="0.24"/><path d="M45.5 35.9L57.8 32.3" stroke="#f0a119" stroke-opacity="0.09" stroke-width="0.83" stroke-linecap="round" stroke-linejoin="round" fill="none"/><path d="M48.2 35.1L55.1 33.1" stroke="#f0a119" stroke-opacity="0.12" stroke-width="1.38" stroke-linecap="round" fill="none"/><circle cx="45.5" cy="35.9" r="1.97" fill="#f08b19" fill-opacity="0.43"/><path d="M36.1 41.0L34.7 49.0" stroke="#f09819" stroke-opacity="0.21" stroke-width="2.07" stroke-linecap="round" stroke-linejoin="round" fill="none"/><path d="M35.8 42.8L35.0 47.2" stroke="#f09819" stroke-opacity="0.27" stroke-width="3.45" stroke-linecap="round" fill="none"/><circle cx="12.7" cy="43.5" r="3.45" fill="#f0a419" fill-opacity="0.14"/><path d="M43.1 40.7L48.9 50.1" stroke="#f07e19" stroke-opacity="0.19" stroke-width="1.66" stroke-linecap="round" stroke-linejoin="round" fill="none"/><path d="M44.4 42.8L47.6 48.0" stroke="#f07e19" stroke-opacity="0.24" stroke-width="2.76" stroke-linecap="round" fill="none"/><path d="M50.3 38.5L58.6 46.8" stroke="#f07c19" stroke-opacity="0.16" stroke-width="1.24" stroke-linecap="round" stroke-linejoin="round" fill="none"/><path d="M52.1 40.4L56.7 45.0" stroke="#f07c19" stroke-opacity="0.20" stroke-width="2.07" stroke-linecap="round" fill="none"/><path d="M57.8 46.1L63.6 49.2L68.8 51.6" stroke="#f09819" stroke-opacity="0.11" stroke-width="0.83" stroke-linecap="round" stroke-linejoin="round" fill="none"/><path d="M60.1 47.3L63.6 49.2L66.7 50.6" stroke="#f09819" stroke-opacity="0.14" stroke-width="1.38" stroke-linecap="round" stroke-linejoin="round" fill="none"/><path d="M40.5 48.2L40.5 56.8" stroke="#f09119" stroke-opacity="0.24" stroke-width="2.48" stroke-linecap="round" stroke-linejoin="round" fill="none"/><path d="M40.5 50.1L40.5 54.9" stroke="#f09119" stroke-opacity="0.30" stroke-width="4.14" stroke-linecap="round" fill="none"/><circle cx="60.7" cy="55.3" r="6.65" fill="#f0b619" fill-opacity="0.15"/><circle cx="60.4" cy="55.0" r="4.19" fill="#f0ae19" fill-opacity="0.46"/><circle cx="74.2" cy="1.0" r="2.96" fill="#f0ad19" fill-opacity="0.14"/><circle cx="89.3" cy="1.2" r="2.96" fill="#f0a419" fill-opacity="0.14"/><path d="M83.1 4.1L86.7 5.9L90.6 6.3" stroke="#f08b19" stroke-opacity="0.11" stroke-width="1.24" stroke-linecap="round" stroke-linejoin="round" fill="none"/><path d="M84.6 4.8L86.7 5.9L89.1 6.1" stroke="#f08b19" stroke-opacity="0.14" stroke-width="2.07" stroke-linecap="round" stroke-linejoin="round" fill="none"/><circle cx="69.5" cy="7.0" r="3.20" fill="#f0aa19" fill-opacity="0.12"/><circle cx="95.3" cy="13.7" r="3.70" fill="#f09819" fill-opacity="0.19"/><circle cx="104.5" cy="14.0" r="3.70" fill="#f09f19" fill-opacity="0.24"/><circle cx="87.0" cy="18.9" r="2.96" fill="#f09f19" fill-opacity="0.24"/><circle cx="65.1" cy="31.8" r="4.93" fill="#f0ad19" fill-opacity="0.22"/><circle cx="89.6" cy="34.2" r="3.70" fill="#f09c19" fill-opacity="0.22"/><circle cx="80.0" cy="36.1" r="4.43" fill="#f09c19" fill-opacity="0.22"/><circle cx="68.7" cy="40.6" r="3.94" fill="#f0af19" fill-opacity="0.24"/><circle cx="98.6" cy="48.2" r="2.96" fill="#f0a419" fill-opacity="0.10"/><circle cx="84.1" cy="53.6" r="2.46" fill="#f07419" fill-opacity="0.39"/><circle cx="114.9" cy="51.3" r="2.96" fill="#f05d19" fill-opacity="0.39"/><circle cx="104.8" cy="54.0" r="2.71" fill="#f09c19" fill-opacity="0.07"/><circle cx="37.9" cy="63.2" r="4.43" fill="#f0a719" fill-opacity="0.27"/><circle cx="4.7" cy="66.4" r="3.45" fill="#f0ab19" fill-opacity="0.19"/><path d="M10.3 61.7L17.6 66.1L22.1 68.7" stroke="#f08b19" stroke-opacity="0.19" stroke-width="1.86" stroke-linecap="round" stroke-linejoin="round" fill="none"/><path d="M13.2 63.4L17.6 66.1L20.3 67.7" stroke="#f08b19" stroke-opacity="0.24" stroke-width="3.10" stroke-linecap="round" stroke-linejoin="round" fill="none"/><circle cx="20.6" cy="67.9" r="2.96" fill="#f08b19" fill-opacity="0.46"/><path d="M45.3 61.7L50.7 64.6L56.2 65.8" stroke="#f08b19" stroke-opacity="0.13" stroke-width="1.24" stroke-linecap="round" stroke-linejoin="round" fill="none"/><path d="M47.5 62.9L50.7 64.6L54.0 65.3" stroke="#f08b19" stroke-opacity="0.17" stroke-width="2.07" stroke-linecap="round" stroke-linejoin="round" fill="none"/><circle cx="28.8" cy="70.2" r="3.70" fill="#f0a419" fill-opacity="0.29"/><circle cx="31.9" cy="65.8" r="1.72" fill="#f03e19" fill-opacity="0.46"/><circle cx="38.5" cy="79.3" r="2.22" fill="#f0a119" fill-opacity="0.34"/><circle cx="0.7" cy="79.3" r="2.46" fill="#f0a419" fill-opacity="0.10"/><circle cx="54.7" cy="88.9" r="5.17" fill="#f0b119" fill-opacity="0.19"/><path d="M33.1 95.8L37.5 91.5L44.1 91.8L51.5 95.2" stroke="#f09219" stroke-opacity="0.19" stroke-width="1.45" stroke-linecap="round" stroke-linejoin="round" fill="none"/><path d="M34.9 94.1L37.5 91.5L44.1 91.8L48.5 93.9" stroke="#f09219" stroke-opacity="0.24" stroke-width="2.41" stroke-linecap="round" stroke-linejoin="round" fill="none"/><circle cx="52.2" cy="93.7" r="1.72" fill="#f04d19" fill-opacity="0.46"/><circle cx="10.3" cy="93.4" r="6.16" fill="#f0a619" fill-opacity="0.20"/><path d="M2.2 99.9L1.8 107.3" stroke="#f0aa19" stroke-opacity="0.07" stroke-width="1.03" stroke-linecap="round" stroke-linejoin="round" fill="none"/><path d="M2.1 101.5L1.9 105.7" stroke="#f0aa19" stroke-opacity="0.08" stroke-width="1.72" stroke-linecap="round" fill="none"/><path d="M8.1 109.8L16.2 107.6" stroke="#f08b19" stroke-opacity="0.16" stroke-width="1.24" stroke-linecap="round" stroke-linejoin="round" fill="none"/><path d="M9.9 109.3L14.4 108.1" stroke="#f08b19" stroke-opacity="0.20" stroke-width="2.07" stroke-linecap="round" fill="none"/><path d="M12.5 102.9L15.4 107.3" stroke="#f09819" stroke-opacity="0.11" stroke-width="0.83" stroke-linecap="round" stroke-linejoin="round" fill="none"/><path d="M13.1 103.8L14.8 106.3" stroke="#f09819" stroke-opacity="0.14" stroke-width="1.38" stroke-linecap="round" fill="none"/><circle cx="17.4" cy="107.9" r="2.22" fill="#f07319" fill-opacity="0.46"/><circle cx="45.1" cy="72.0" r="0.74" fill="#f01e19" fill-opacity="0.39"/><circle cx="23.5" cy="94.3" r="0.74" fill="#f01e19" fill-opacity="0.34"/><circle cx="81.3" cy="62.0" r="6.65" fill="#f0ac19" fill-opacity="0.20"/><path d="M87.9 61.7L86.2 69.3" stroke="#f07e19" stroke-opacity="0.19" stroke-width="1.24" stroke-linecap="round" stroke-linejoin="round" fill="none"/><path d="M87.6 63.4L86.6 67.6" stroke="#f07e19" stroke-opacity="0.24" stroke-width="2.07" stroke-linecap="round" fill="none"/><path d="M78.8 69.3L86.2 69.3" stroke="#f07419" stroke-opacity="0.21" stroke-width="1.24" stroke-linecap="round" stroke-linejoin="round" fill="none"/><path d="M80.4 69.3L84.6 69.3" stroke="#f07419" stroke-opacity="0.27" stroke-width="2.07" stroke-linecap="round" fill="none"/><path d="M86.2 69.3L90.1 75.8" stroke="#f07e19" stroke-opacity="0.19" stroke-width="1.24" stroke-linecap="round" stroke-linejoin="round" fill="none"/><path d="M87.1 70.8L89.3 74.4" stroke="#f07e19" stroke-opacity="0.24" stroke-width="2.07" stroke-linecap="round" fill="none"/><circle cx="86.2" cy="69.3" r="2.22" fill="#f07719" fill-opacity="0.43"/><circle cx="96.8" cy="72.3" r="3.70" fill="#f0ab19" fill-opacity="0.19"/><path d="M109.7 64.3L117.1 70.5" stroke="#f08b19" stroke-opacity="0.19" stroke-width="1.86" stroke-linecap="round" stroke-linejoin="round" fill="none"/><path d="M111.3 65.7L115.4 69.1" stroke="#f08b19" stroke-opacity="0.24" stroke-width="3.10" stroke-linecap="round" fill="none"/><circle cx="112.2" cy="71.2" r="4.43" fill="#f0a019" fill-opacity="0.29"/><circle cx="71.5" cy="72.3" r="6.16" fill="#f0ad19" fill-opacity="0.22"/><circle cx="66.3" cy="79.3" r="2.96" fill="#f08119" fill-opacity="0.46"/><circle cx="102.6" cy="82.0" r="2.22" fill="#f0b119" fill-opacity="0.19"/><circle cx="70.3" cy="95.5" r="3.94" fill="#f0ad19" fill-opacity="0.22"/><circle cx="112.2" cy="99.6" r="5.42" fill="#f0b219" fill-opacity="0.20"/><circle cx="100.4" cy="104.3" r="6.16" fill="#f0ad19" fill-opacity="0.22"/><circle cx="91.6" cy="107.6" r="3.45" fill="#f07819" fill-opacity="0.46"/><path d="M91.6 103.6L91.6 107.6" stroke="#f06919" stroke-opacity="0.21" stroke-width="1.24" stroke-linecap="round" stroke-linejoin="round" fill="none"/><path d="M91.6 104.5L91.6 106.7" stroke="#f06919" stroke-opacity="0.27" stroke-width="2.07" stroke-linecap="round" fill="none"/><path d="M60.0 66.1L65.9 66.8" stroke="#f08b19" stroke-opacity="0.08" stroke-width="0.83" stroke-linecap="round" stroke-linejoin="round" fill="none"/><path d="M61.3 66.3L64.6 66.7" stroke="#f08b19" stroke-opacity="0.10" stroke-width="1.38" stroke-linecap="round" fill="none"/></g><g filter="url(#bS)"><path d="M6.8 3.4L5.8 9.9" stroke="#f0ad19" stroke-opacity="0.19" stroke-width="0.97" stroke-linecap="round" stroke-linejoin="round" fill="none"/><path d="M6.6 4.8L6.0 8.5" stroke="#f0ad19" stroke-opacity="0.24" stroke-width="1.62" stroke-linecap="round" fill="none"/><circle cx="15.6" cy="1.0" r="2.90" fill="#f0b419" fill-opacity="0.47"/><circle cx="15.6" cy="1.0" r="2.09" fill="none" stroke="#f0b419" stroke-opacity="0.38" stroke-width="1.45"/><circle cx="23.1" cy="11.1" r="2.32" fill="#f09f19" fill-opacity="0.23"/><path d="M31.1 7.0L36.1 10.6" stroke="#f09119" stroke-opacity="0.50" stroke-width="1.46" stroke-linecap="round" stroke-linejoin="round" fill="none"/><path d="M32.2 7.8L35.0 9.8" stroke="#f09119" stroke-opacity="0.64" stroke-width="2.43" stroke-linecap="round" fill="none"/><path d="M38.7 8.2L44.8 15.0" stroke="#f08e19" stroke-opacity="0.50" stroke-width="1.46" stroke-linecap="round" stroke-linejoin="round" fill="none"/><path d="M40.1 9.7L43.5 13.5" stroke="#f08e19" stroke-opacity="0.64" stroke-width="2.43" stroke-linecap="round" fill="none"/><path d="M42.2 5.6L39.8 9.9" stroke="#f09319" stroke-opacity="0.38" stroke-width="0.73" stroke-linecap="round" stroke-linejoin="round" fill="none"/><path d="M41.7 6.5L40.3 9.0" stroke="#f09319" stroke-opacity="0.48" stroke-width="1.22" stroke-linecap="round" fill="none"/><path d="M22.8 21.2L25.3 28.7" stroke="#f08b19" stroke-opacity="0.54" stroke-width="1.34" stroke-linecap="round" stroke-linejoin="round" fill="none"/><path d="M23.4 22.9L24.8 27.1" stroke="#f08b19" stroke-opacity="0.68" stroke-width="2.23" stroke-linecap="round" fill="none"/><circle cx="42.8" cy="22.9" r="1.74" fill="#f09819" fill-opacity="0.92"/><path d="M43.4 23.7L45.1 29.4" stroke="#f08619" stroke-opacity="0.54" stroke-width="1.34" stroke-linecap="round" stroke-linejoin="round" fill="none"/><path d="M43.8 24.9L44.7 28.2" stroke="#f08619" stroke-opacity="0.68" stroke-width="2.23" stroke-linecap="round" fill="none"/><path d="M44.8 23.7L46.6 18.3" stroke="#f09519" stroke-opacity="0.32" stroke-width="0.49" stroke-linecap="round" stroke-linejoin="round" fill="none"/><path d="M45.2 22.5L46.2 19.5" stroke="#f09519" stroke-opacity="0.40" stroke-width="0.81" stroke-linecap="round" fill="none"/><circle cx="36.0" cy="34.8" r="3.33" fill="#f0a819" fill-opacity="0.59"/><circle cx="36.0" cy="34.8" r="2.40" fill="none" stroke="#f0a819" stroke-opacity="0.47" stroke-width="1.67"/><circle cx="36.0" cy="34.8" r="2.03" fill="#f0b419" fill-opacity="0.57"/><path d="M45.5 35.9L57.8 32.3" stroke="#f0a119" stroke-opacity="0.22" stroke-width="0.49" stroke-linecap="round" stroke-linejoin="round" fill="none"/><path d="M48.2 35.1L55.1 33.1" stroke="#f0a119" stroke-opacity="0.28" stroke-width="0.81" stroke-linecap="round" fill="none"/><circle cx="45.5" cy="35.9" r="1.16" fill="#f08b19" fill-opacity="1.00"/><path d="M36.1 41.0L34.7 49.0" stroke="#f09819" stroke-opacity="0.50" stroke-width="1.22" stroke-linecap="round" stroke-linejoin="round" fill="none"/><path d="M35.8 42.8L35.0 47.2" stroke="#f09819" stroke-opacity="0.64" stroke-width="2.03" stroke-linecap="round" fill="none"/><circle cx="12.7" cy="43.5" r="2.03" fill="#f0a419" fill-opacity="0.34"/><path d="M43.1 40.7L48.9 50.1" stroke="#f07e19" stroke-opacity="0.44" stroke-width="0.97" stroke-linecap="round" stroke-linejoin="round" fill="none"/><path d="M44.4 42.8L47.6 48.0" stroke="#f07e19" stroke-opacity="0.56" stroke-width="1.62" stroke-linecap="round" fill="none"/><path d="M50.3 38.5L58.6 46.8" stroke="#f07c19" stroke-opacity="0.38" stroke-width="0.73" stroke-linecap="round" stroke-linejoin="round" fill="none"/><path d="M52.1 40.4L56.7 45.0" stroke="#f07c19" stroke-opacity="0.48" stroke-width="1.22" stroke-linecap="round" fill="none"/><path d="M57.8 46.1L63.6 49.2L68.8 51.6" stroke="#f09819" stroke-opacity="0.25" stroke-width="0.49" stroke-linecap="round" stroke-linejoin="round" fill="none"/><path d="M60.1 47.3L63.6 49.2L66.7 50.6" stroke="#f09819" stroke-opacity="0.32" stroke-width="0.81" stroke-linecap="round" stroke-linejoin="round" fill="none"/><path d="M40.5 48.2L40.5 56.8" stroke="#f09119" stroke-opacity="0.55" stroke-width="1.46" stroke-linecap="round" stroke-linejoin="round" fill="none"/><path d="M40.5 50.1L40.5 54.9" stroke="#f09119" stroke-opacity="0.70" stroke-width="2.43" stroke-linecap="round" fill="none"/><circle cx="60.7" cy="55.3" r="3.91" fill="#f0b619" fill-opacity="0.25"/><circle cx="60.7" cy="55.3" r="2.82" fill="none" stroke="#f0b619" stroke-opacity="0.20" stroke-width="1.96"/><circle cx="60.4" cy="55.0" r="2.46" fill="#f0ae19" fill-opacity="1.00"/><circle cx="74.2" cy="1.0" r="1.74" fill="#f0ad19" fill-opacity="0.34"/><circle cx="89.3" cy="1.2" r="1.74" fill="#f0a419" fill-opacity="0.34"/><path d="M83.1 4.1L86.7 5.9L90.6 6.3" stroke="#f08b19" stroke-opacity="0.25" stroke-width="0.73" stroke-linecap="round" stroke-linejoin="round" fill="none"/><path d="M84.6 4.8L86.7 5.9L89.1 6.1" stroke="#f08b19" stroke-opacity="0.32" stroke-width="1.22" stroke-linecap="round" stroke-linejoin="round" fill="none"/><circle cx="69.5" cy="7.0" r="1.88" fill="#f0aa19" fill-opacity="0.29"/><circle cx="95.3" cy="13.7" r="2.17" fill="#f09819" fill-opacity="0.46"/><circle cx="104.5" cy="14.0" r="2.17" fill="#f09f19" fill-opacity="0.57"/><circle cx="87.0" cy="18.9" r="1.74" fill="#f09f19" fill-opacity="0.57"/><circle cx="65.1" cy="31.8" r="2.90" fill="#f0ad19" fill-opacity="0.35"/><circle cx="65.1" cy="31.8" r="2.09" fill="none" stroke="#f0ad19" stroke-opacity="0.28" stroke-width="1.45"/><circle cx="89.6" cy="34.2" r="2.17" fill="#f09c19" fill-opacity="0.52"/><circle cx="80.0" cy="36.1" r="2.61" fill="#f09c19" fill-opacity="0.35"/><circle cx="80.0" cy="36.1" r="1.88" fill="none" stroke="#f09c19" stroke-opacity="0.28" stroke-width="1.30"/><circle cx="68.7" cy="40.6" r="2.32" fill="#f0af19" fill-opacity="0.57"/><circle cx="98.6" cy="48.2" r="1.74" fill="#f0a419" fill-opacity="0.23"/><circle cx="84.1" cy="53.6" r="1.45" fill="#f07419" fill-opacity="0.92"/><circle cx="114.9" cy="51.3" r="1.74" fill="#f05d19" fill-opacity="0.92"/><circle cx="104.8" cy="54.0" r="1.59" fill="#f09c19" fill-opacity="0.17"/><circle cx="37.9" cy="63.2" r="2.61" fill="#f0a719" fill-opacity="0.43"/><circle cx="37.9" cy="63.2" r="1.88" fill="none" stroke="#f0a719" stroke-opacity="0.35" stroke-width="1.30"/><circle cx="4.7" cy="66.4" r="2.03" fill="#f0ab19" fill-opacity="0.46"/><path d="M10.3 61.7L17.6 66.1L22.1 68.7" stroke="#f08b19" stroke-opacity="0.44" stroke-width="1.10" stroke-linecap="round" stroke-linejoin="round" fill="none"/><path d="M13.2 63.4L17.6 66.1L20.3 67.7" stroke="#f08b19" stroke-opacity="0.56" stroke-width="1.83" stroke-linecap="round" stroke-linejoin="round" fill="none"/><circle cx="20.6" cy="67.9" r="1.74" fill="#f08b19" fill-opacity="1.00"/><path d="M45.3 61.7L50.7 64.6L56.2 65.8" stroke="#f08b19" stroke-opacity="0.32" stroke-width="0.73" stroke-linecap="round" stroke-linejoin="round" fill="none"/><path d="M47.5 62.9L50.7 64.6L54.0 65.3" stroke="#f08b19" stroke-opacity="0.40" stroke-width="1.22" stroke-linecap="round" stroke-linejoin="round" fill="none"/><circle cx="28.8" cy="70.2" r="2.17" fill="#f0a419" fill-opacity="0.69"/><circle cx="31.9" cy="65.8" r="1.01" fill="#f03e19" fill-opacity="1.00"/><circle cx="38.5" cy="79.3" r="1.30" fill="#f0a119" fill-opacity="0.80"/><circle cx="0.7" cy="79.3" r="1.45" fill="#f0a419" fill-opacity="0.23"/><circle cx="54.7" cy="88.9" r="3.04" fill="#f0b119" fill-opacity="0.31"/><circle cx="54.7" cy="88.9" r="2.19" fill="none" stroke="#f0b119" stroke-opacity="0.25" stroke-width="1.52"/><path d="M33.1 95.8L37.5 91.5L44.1 91.8L51.5 95.2" stroke="#f09219" stroke-opacity="0.44" stroke-width="0.85" stroke-linecap="round" stroke-linejoin="round" fill="none"/><path d="M34.9 94.1L37.5 91.5L44.1 91.8L48.5 93.9" stroke="#f09219" stroke-opacity="0.56" stroke-width="1.42" stroke-linecap="round" stroke-linejoin="round" fill="none"/><circle cx="52.2" cy="93.7" r="1.01" fill="#f04d19" fill-opacity="1.00"/><circle cx="10.3" cy="93.4" r="3.62" fill="#f0a619" fill-opacity="0.33"/><circle cx="10.3" cy="93.4" r="2.61" fill="none" stroke="#f0a619" stroke-opacity="0.26" stroke-width="1.81"/><path d="M2.2 99.9L1.8 107.3" stroke="#f0aa19" stroke-opacity="0.16" stroke-width="0.61" stroke-linecap="round" stroke-linejoin="round" fill="none"/><path d="M2.1 101.5L1.9 105.7" stroke="#f0aa19" stroke-opacity="0.20" stroke-width="1.01" stroke-linecap="round" fill="none"/><path d="M8.1 109.8L16.2 107.6" stroke="#f08b19" stroke-opacity="0.38" stroke-width="0.73" stroke-linecap="round" stroke-linejoin="round" fill="none"/><path d="M9.9 109.3L14.4 108.1" stroke="#f08b19" stroke-opacity="0.48" stroke-width="1.22" stroke-linecap="round" fill="none"/><path d="M12.5 102.9L15.4 107.3" stroke="#f09819" stroke-opacity="0.25" stroke-width="0.49" stroke-linecap="round" stroke-linejoin="round" fill="none"/><path d="M13.1 103.8L14.8 106.3" stroke="#f09819" stroke-opacity="0.32" stroke-width="0.81" stroke-linecap="round" fill="none"/><circle cx="17.4" cy="107.9" r="1.30" fill="#f07319" fill-opacity="1.00"/><circle cx="45.1" cy="72.0" r="0.43" fill="#f01e19" fill-opacity="0.92"/><circle cx="23.5" cy="94.3" r="0.43" fill="#f01e19" fill-opacity="0.80"/><circle cx="81.3" cy="62.0" r="3.91" fill="#f0ac19" fill-opacity="0.33"/><circle cx="81.3" cy="62.0" r="2.82" fill="none" stroke="#f0ac19" stroke-opacity="0.26" stroke-width="1.96"/><path d="M87.9 61.7L86.2 69.3" stroke="#f07e19" stroke-opacity="0.44" stroke-width="0.73" stroke-linecap="round" stroke-linejoin="round" fill="none"/><path d="M87.6 63.4L86.6 67.6" stroke="#f07e19" stroke-opacity="0.56" stroke-width="1.22" stroke-linecap="round" fill="none"/><path d="M78.8 69.3L86.2 69.3" stroke="#f07419" stroke-opacity="0.50" stroke-width="0.73" stroke-linecap="round" stroke-linejoin="round" fill="none"/><path d="M80.4 69.3L84.6 69.3" stroke="#f07419" stroke-opacity="0.64" stroke-width="1.22" stroke-linecap="round" fill="none"/><path d="M86.2 69.3L90.1 75.8" stroke="#f07e19" stroke-opacity="0.44" stroke-width="0.73" stroke-linecap="round" stroke-linejoin="round" fill="none"/><path d="M87.1 70.8L89.3 74.4" stroke="#f07e19" stroke-opacity="0.56" stroke-width="1.22" stroke-linecap="round" fill="none"/><circle cx="86.2" cy="69.3" r="1.30" fill="#f07719" fill-opacity="1.00"/><circle cx="96.8" cy="72.3" r="2.17" fill="#f0ab19" fill-opacity="0.46"/><path d="M109.7 64.3L117.1 70.5" stroke="#f08b19" stroke-opacity="0.44" stroke-width="1.10" stroke-linecap="round" stroke-linejoin="round" fill="none"/><path d="M111.3 65.7L115.4 69.1" stroke="#f08b19" stroke-opacity="0.56" stroke-width="1.83" stroke-linecap="round" fill="none"/><circle cx="112.2" cy="71.2" r="2.61" fill="#f0a019" fill-opacity="0.47"/><circle cx="112.2" cy="71.2" r="1.88" fill="none" stroke="#f0a019" stroke-opacity="0.38" stroke-width="1.30"/><circle cx="71.5" cy="72.3" r="3.62" fill="#f0ad19" fill-opacity="0.35"/><circle cx="71.5" cy="72.3" r="2.61" fill="none" stroke="#f0ad19" stroke-opacity="0.28" stroke-width="1.81"/><circle cx="66.3" cy="79.3" r="1.74" fill="#f08119" fill-opacity="1.00"/><circle cx="102.6" cy="82.0" r="1.30" fill="#f0b119" fill-opacity="0.46"/><circle cx="70.3" cy="95.5" r="2.32" fill="#f0ad19" fill-opacity="0.52"/><circle cx="112.2" cy="99.6" r="3.19" fill="#f0b219" fill-opacity="0.33"/><circle cx="112.2" cy="99.6" r="2.30" fill="none" stroke="#f0b219" stroke-opacity="0.26" stroke-width="1.59"/><circle cx="100.4" cy="104.3" r="3.62" fill="#f0ad19" fill-opacity="0.35"/><circle cx="100.4" cy="104.3" r="2.61" fill="none" stroke="#f0ad19" stroke-opacity="0.28" stroke-width="1.81"/><circle cx="91.6" cy="107.6" r="2.03" fill="#f07819" fill-opacity="1.00"/><path d="M91.6 103.6L91.6 107.6" stroke="#f06919" stroke-opacity="0.50" stroke-width="0.73" stroke-linecap="round" stroke-linejoin="round" fill="none"/><path d="M91.6 104.5L91.6 106.7" stroke="#f06919" stroke-opacity="0.64" stroke-width="1.22" stroke-linecap="round" fill="none"/><path d="M60.0 66.1L65.9 66.8" stroke="#f08b19" stroke-opacity="0.19" stroke-width="0.49" stroke-linecap="round" stroke-linejoin="round" fill="none"/><path d="M61.3 66.3L64.6 66.7" stroke="#f08b19" stroke-opacity="0.24" stroke-width="0.81" stroke-linecap="round" fill="none"/></g></g></g></g><rect x="0.6" y="0.6" width="118.4" height="111.1" fill="none" stroke="#000" stroke-width="1.2"/></g>
<clipPath id="c4"><rect x="0" y="0" width="119.1" height="112.3"/></clipPath><g transform="translate(140.1 260.2)"><rect x="0" y="0" width="119.1" height="112.3" fill="#161310"/><g clip-path="url(#c4)"><g transform="translate(-0.1 0)"><g filter="url(#bH)"><circle cx="6.8" cy="3.0" r="3.1" fill="#23248c" fill-opacity="0.26"/><circle cx="15.6" cy="0.5" r="3.1" fill="#23248c" fill-opacity="0.26"/><circle cx="33.0" cy="0.5" r="3.1" fill="#23248c" fill-opacity="0.26"/><circle cx="23.6" cy="10.8" r="3.1" fill="#23248c" fill-opacity="0.26"/><circle cx="35.7" cy="9.6" r="3.1" fill="#23248c" fill-opacity="0.26"/><circle cx="39.2" cy="10.2" r="3.1" fill="#23248c" fill-opacity="0.26"/><circle cx="45.0" cy="13.1" r="3.1" fill="#23248c" fill-opacity="0.26"/><circle cx="23.6" cy="20.8" r="3.1" fill="#23248c" fill-opacity="0.26"/><circle cx="24.1" cy="26.7" r="3.1" fill="#23248c" fill-opacity="0.26"/><circle cx="43.1" cy="24.7" r="3.1" fill="#23248c" fill-opacity="0.26"/><circle cx="45.1" cy="27.3" r="3.1" fill="#23248c" fill-opacity="0.26"/><circle cx="39.0" cy="34.5" r="3.1" fill="#23248c" fill-opacity="0.26"/><circle cx="46.4" cy="35.1" r="3.1" fill="#23248c" fill-opacity="0.26"/><circle cx="36.1" cy="41.7" r="3.1" fill="#23248c" fill-opacity="0.26"/><circle cx="10.1" cy="45.6" r="3.1" fill="#23248c" fill-opacity="0.26"/><circle cx="46.8" cy="46.4" r="3.1" fill="#23248c" fill-opacity="0.26"/><circle cx="57.8" cy="46.1" r="3.1" fill="#23248c" fill-opacity="0.26"/><circle cx="40.5" cy="55.1" r="3.1" fill="#23248c" fill-opacity="0.26"/><circle cx="60.2" cy="54.8" r="3.1" fill="#23248c" fill-opacity="0.26"/><circle cx="74.2" cy="0.5" r="3.1" fill="#23248c" fill-opacity="0.26"/><circle cx="89.3" cy="1.0" r="3.1" fill="#23248c" fill-opacity="0.26"/><circle cx="82.8" cy="3.8" r="3.1" fill="#23248c" fill-opacity="0.26"/><circle cx="69.5" cy="6.7" r="3.1" fill="#23248c" fill-opacity="0.26"/><circle cx="96.1" cy="13.7" r="3.1" fill="#23248c" fill-opacity="0.26"/><circle cx="103.8" cy="14.4" r="3.1" fill="#23248c" fill-opacity="0.26"/><circle cx="88.0" cy="18.9" r="3.1" fill="#23248c" fill-opacity="0.26"/><circle cx="65.3" cy="31.9" r="3.1" fill="#23248c" fill-opacity="0.26"/><circle cx="89.9" cy="33.5" r="3.1" fill="#23248c" fill-opacity="0.26"/><circle cx="78.8" cy="36.7" r="3.1" fill="#23248c" fill-opacity="0.26"/><circle cx="69.1" cy="40.0" r="3.1" fill="#23248c" fill-opacity="0.26"/><circle cx="98.6" cy="48.2" r="3.1" fill="#23248c" fill-opacity="0.26"/><circle cx="84.1" cy="52.1" r="3.1" fill="#23248c" fill-opacity="0.26"/><circle cx="116.1" cy="51.1" r="3.1" fill="#23248c" fill-opacity="0.26"/><circle cx="104.8" cy="54.0" r="3.1" fill="#23248c" fill-opacity="0.26"/><circle cx="38.7" cy="64.5" r="3.1" fill="#23248c" fill-opacity="0.26"/><circle cx="6.8" cy="67.4" r="3.1" fill="#23248c" fill-opacity="0.26"/><circle cx="17.6" cy="66.8" r="3.1" fill="#23248c" fill-opacity="0.26"/><circle cx="55.7" cy="65.9" r="3.1" fill="#23248c" fill-opacity="0.26"/><circle cx="29.6" cy="71.3" r="3.1" fill="#23248c" fill-opacity="0.26"/><circle cx="38.3" cy="77.5" r="3.1" fill="#23248c" fill-opacity="0.26"/><circle cx="1.2" cy="80.1" r="3.1" fill="#23248c" fill-opacity="0.26"/><circle cx="55.2" cy="87.6" r="3.1" fill="#23248c" fill-opacity="0.26"/><circle cx="25.3" cy="90.2" r="3.1" fill="#23248c" fill-opacity="0.26"/><circle cx="40.5" cy="90.9" r="3.1" fill="#23248c" fill-opacity="0.26"/><circle cx="11.1" cy="94.8" r="3.1" fill="#23248c" fill-opacity="0.26"/><circle cx="44.2" cy="98.0" r="3.1" fill="#23248c" fill-opacity="0.26"/><circle cx="2.2" cy="108.6" r="3.1" fill="#23248c" fill-opacity="0.26"/><circle cx="16.3" cy="109.0" r="3.1" fill="#23248c" fill-opacity="0.26"/><circle cx="79.2" cy="61.9" r="3.1" fill="#23248c" fill-opacity="0.26"/><circle cx="86.0" cy="69.5" r="3.1" fill="#23248c" fill-opacity="0.26"/><circle cx="96.1" cy="71.3" r="3.1" fill="#23248c" fill-opacity="0.26"/><circle cx="112.3" cy="71.0" r="3.1" fill="#23248c" fill-opacity="0.26"/><circle cx="115.4" cy="69.1" r="3.1" fill="#23248c" fill-opacity="0.26"/><circle cx="69.4" cy="72.1" r="3.1" fill="#23248c" fill-opacity="0.26"/><circle cx="64.8" cy="77.9" r="3.1" fill="#23248c" fill-opacity="0.26"/><circle cx="102.8" cy="81.8" r="3.1" fill="#23248c" fill-opacity="0.26"/><circle cx="70.4" cy="96.3" r="3.1" fill="#23248c" fill-opacity="0.26"/><circle cx="111.6" cy="98.6" r="3.1" fill="#23248c" fill-opacity="0.26"/><circle cx="101.5" cy="103.2" r="3.1" fill="#23248c" fill-opacity="0.26"/><circle cx="91.8" cy="108.6" r="3.1" fill="#23248c" fill-opacity="0.26"/></g><g filter="url(#bN)"><ellipse cx="6.8" cy="3.0" rx="1.68" ry="1.04" transform="rotate(99 6.8 3.0)" fill="#3d49d6" fill-opacity="0.92"/><ellipse cx="15.6" cy="0.5" rx="1.44" ry="1.04" transform="rotate(27 15.6 0.5)" fill="#3d49d6" fill-opacity="0.92"/><ellipse cx="33.0" cy="0.5" rx="1.35" ry="1.14" transform="rotate(117 33.0 0.5)" fill="#3d49d6" fill-opacity="0.92"/><ellipse cx="23.6" cy="10.8" rx="1.52" ry="1.24" transform="rotate(13 23.6 10.8)" fill="#3d49d6" fill-opacity="0.92"/><ellipse cx="35.7" cy="9.6" rx="1.68" ry="1.04" transform="rotate(36 35.7 9.6)" fill="#3d49d6" fill-opacity="0.92"/><ellipse cx="39.2" cy="10.2" rx="1.68" ry="1.04" transform="rotate(120 39.2 10.2)" fill="#3d49d6" fill-opacity="0.92"/><ellipse cx="45.0" cy="13.1" rx="1.68" ry="1.04" transform="rotate(48 45.0 13.1)" fill="#3d49d6" fill-opacity="0.92"/><ellipse cx="23.6" cy="20.8" rx="1.68" ry="1.04" transform="rotate(72 23.6 20.8)" fill="#3d49d6" fill-opacity="0.92"/><ellipse cx="24.1" cy="26.7" rx="1.68" ry="1.04" transform="rotate(72 24.1 26.7)" fill="#3d49d6" fill-opacity="0.92"/><ellipse cx="43.1" cy="24.7" rx="1.68" ry="1.04" transform="rotate(73 43.1 24.7)" fill="#3d49d6" fill-opacity="0.92"/><ellipse cx="45.1" cy="27.3" rx="1.68" ry="1.04" transform="rotate(73 45.1 27.3)" fill="#3d49d6" fill-opacity="0.92"/><ellipse cx="39.0" cy="34.5" rx="1.36" ry="1.16" transform="rotate(16 39.0 34.5)" fill="#3d49d6" fill-opacity="0.92"/><ellipse cx="46.4" cy="35.1" rx="1.68" ry="1.04" transform="rotate(-16 46.4 35.1)" fill="#3d49d6" fill-opacity="0.92"/><ellipse cx="36.1" cy="41.7" rx="1.68" ry="1.04" transform="rotate(100 36.1 41.7)" fill="#3d49d6" fill-opacity="0.92"/><ellipse cx="10.1" cy="45.6" rx="1.32" ry="1.18" transform="rotate(22 10.1 45.6)" fill="#3d49d6" fill-opacity="0.92"/><ellipse cx="46.8" cy="46.4" rx="1.68" ry="1.04" transform="rotate(58 46.8 46.4)" fill="#3d49d6" fill-opacity="0.92"/><ellipse cx="57.8" cy="46.1" rx="1.68" ry="1.04" transform="rotate(45 57.8 46.1)" fill="#3d49d6" fill-opacity="0.92"/><ellipse cx="40.5" cy="55.1" rx="1.68" ry="1.04" transform="rotate(90 40.5 55.1)" fill="#3d49d6" fill-opacity="0.92"/><ellipse cx="60.2" cy="54.8" rx="1.39" ry="0.87" transform="rotate(104 60.2 54.8)" fill="#3d49d6" fill-opacity="0.92"/><ellipse cx="74.2" cy="0.5" rx="1.42" ry="1.10" transform="rotate(71 74.2 0.5)" fill="#3d49d6" fill-opacity="0.92"/><ellipse cx="89.3" cy="1.0" rx="1.43" ry="0.97" transform="rotate(176 89.3 1.0)" fill="#3d49d6" fill-opacity="0.92"/><ellipse cx="82.8" cy="3.8" rx="1.68" ry="1.04" transform="rotate(26 82.8 3.8)" fill="#3d49d6" fill-opacity="0.92"/><ellipse cx="69.5" cy="6.7" rx="1.58" ry="1.01" transform="rotate(155 69.5 6.7)" fill="#3d49d6" fill-opacity="0.92"/><ellipse cx="96.1" cy="13.7" rx="1.63" ry="1.42" transform="rotate(52 96.1 13.7)" fill="#3d49d6" fill-opacity="0.92"/><ellipse cx="103.8" cy="14.4" rx="1.46" ry="0.97" transform="rotate(26 103.8 14.4)" fill="#3d49d6" fill-opacity="0.92"/><ellipse cx="88.0" cy="18.9" rx="1.47" ry="1.03" transform="rotate(21 88.0 18.9)" fill="#3d49d6" fill-opacity="0.92"/><ellipse cx="65.3" cy="31.9" rx="1.34" ry="1.00" transform="rotate(56 65.3 31.9)" fill="#3d49d6" fill-opacity="0.92"/><ellipse cx="89.9" cy="33.5" rx="1.34" ry="1.22" transform="rotate(147 89.9 33.5)" fill="#3d49d6" fill-opacity="0.92"/><ellipse cx="78.8" cy="36.7" rx="1.42" ry="0.92" transform="rotate(33 78.8 36.7)" fill="#3d49d6" fill-opacity="0.92"/><ellipse cx="69.1" cy="40.0" rx="1.40" ry="1.07" transform="rotate(105 69.1 40.0)" fill="#3d49d6" fill-opacity="0.92"/><ellipse cx="98.6" cy="48.2" rx="1.58" ry="1.26" transform="rotate(115 98.6 48.2)" fill="#3d49d6" fill-opacity="0.92"/><ellipse cx="84.1" cy="52.1" rx="1.36" ry="1.24" transform="rotate(67 84.1 52.1)" fill="#3d49d6" fill-opacity="0.92"/><ellipse cx="116.1" cy="51.1" rx="1.32" ry="1.17" transform="rotate(99 116.1 51.1)" fill="#3d49d6" fill-opacity="0.92"/><ellipse cx="104.8" cy="54.0" rx="1.62" ry="1.46" transform="rotate(11 104.8 54.0)" fill="#3d49d6" fill-opacity="0.92"/><ellipse cx="38.7" cy="64.5" rx="1.48" ry="1.05" transform="rotate(11 38.7 64.5)" fill="#3d49d6" fill-opacity="0.92"/><ellipse cx="6.8" cy="67.4" rx="1.36" ry="1.03" transform="rotate(37 6.8 67.4)" fill="#3d49d6" fill-opacity="0.92"/><ellipse cx="17.6" cy="66.8" rx="1.68" ry="1.04" transform="rotate(31 17.6 66.8)" fill="#3d49d6" fill-opacity="0.92"/><ellipse cx="55.7" cy="65.9" rx="1.68" ry="1.04" transform="rotate(12 55.7 65.9)" fill="#3d49d6" fill-opacity="0.92"/><ellipse cx="29.6" cy="71.3" rx="1.48" ry="1.39" transform="rotate(57 29.6 71.3)" fill="#3d49d6" fill-opacity="0.92"/><ellipse cx="38.3" cy="77.5" rx="1.63" ry="1.09" transform="rotate(105 38.3 77.5)" fill="#3d49d6" fill-opacity="0.92"/><ellipse cx="1.2" cy="80.1" rx="1.59" ry="1.08" transform="rotate(82 1.2 80.1)" fill="#3d49d6" fill-opacity="0.92"/><ellipse cx="55.2" cy="87.6" rx="1.54" ry="1.07" transform="rotate(54 55.2 87.6)" fill="#3d49d6" fill-opacity="0.92"/><ellipse cx="25.3" cy="90.2" rx="1.40" ry="0.97" transform="rotate(143 25.3 90.2)" fill="#3d49d6" fill-opacity="0.92"/><ellipse cx="40.5" cy="90.9" rx="1.68" ry="1.04" transform="rotate(3 40.5 90.9)" fill="#3d49d6" fill-opacity="0.92"/><ellipse cx="11.1" cy="94.8" rx="1.37" ry="1.11" transform="rotate(44 11.1 94.8)" fill="#3d49d6" fill-opacity="0.92"/><ellipse cx="44.2" cy="98.0" rx="1.56" ry="1.10" transform="rotate(103 44.2 98.0)" fill="#3d49d6" fill-opacity="0.92"/><ellipse cx="2.2" cy="108.6" rx="1.68" ry="1.04" transform="rotate(93 2.2 108.6)" fill="#3d49d6" fill-opacity="0.92"/><ellipse cx="16.3" cy="109.0" rx="1.68" ry="1.04" transform="rotate(-15 16.3 109.0)" fill="#3d49d6" fill-opacity="0.92"/><ellipse cx="79.2" cy="61.9" rx="1.42" ry="1.05" transform="rotate(131 79.2 61.9)" fill="#3d49d6" fill-opacity="0.92"/><ellipse cx="86.0" cy="69.5" rx="1.68" ry="1.04" transform="rotate(0 86.0 69.5)" fill="#3d49d6" fill-opacity="0.92"/><ellipse cx="96.1" cy="71.3" rx="1.57" ry="1.47" transform="rotate(176 96.1 71.3)" fill="#3d49d6" fill-opacity="0.92"/><ellipse cx="112.3" cy="71.0" rx="1.63" ry="1.38" transform="rotate(21 112.3 71.0)" fill="#3d49d6" fill-opacity="0.92"/><ellipse cx="115.4" cy="69.1" rx="1.68" ry="1.04" transform="rotate(40 115.4 69.1)" fill="#3d49d6" fill-opacity="0.92"/><ellipse cx="69.4" cy="72.1" rx="1.57" ry="1.29" transform="rotate(136 69.4 72.1)" fill="#3d49d6" fill-opacity="0.92"/><ellipse cx="64.8" cy="77.9" rx="1.57" ry="1.33" transform="rotate(27 64.8 77.9)" fill="#3d49d6" fill-opacity="0.92"/><ellipse cx="102.8" cy="81.8" rx="1.55" ry="0.99" transform="rotate(88 102.8 81.8)" fill="#3d49d6" fill-opacity="0.92"/><ellipse cx="70.4" cy="96.3" rx="1.38" ry="1.27" transform="rotate(7 70.4 96.3)" fill="#3d49d6" fill-opacity="0.92"/><ellipse cx="111.6" cy="98.6" rx="1.48" ry="1.30" transform="rotate(120 111.6 98.6)" fill="#3d49d6" fill-opacity="0.92"/><ellipse cx="101.5" cy="103.2" rx="1.43" ry="1.30" transform="rotate(138 101.5 103.2)" fill="#3d49d6" fill-opacity="0.92"/><ellipse cx="91.8" cy="108.6" rx="1.68" ry="1.04" transform="rotate(90 91.8 108.6)" fill="#3d49d6" fill-opacity="0.92"/></g></g></g><rect x="0.6" y="0.6" width="117.9" height="111.1" fill="none" stroke="#000" stroke-width="1.2"/></g>
<rect x="229.4" y="365.5" width="26" height="3.2" fill="#000"/><rect x="230" y="366.2" width="24.9" height="1.9" fill="#fff"/>
<text x="66.1" y="387.3" font-size="8.2" textLength="25.9" lengthAdjust="spacingAndGlyphs" fill="#b8124b">α-SMA</text>
<text x="98.9" y="387.3" font-size="8.2" textLength="104.7" lengthAdjust="spacingAndGlyphs" fill="#e59b40">Fibroblast Activation Protein</text>
<text x="209.7" y="387.3" font-size="8.2" textLength="18.5" lengthAdjust="spacingAndGlyphs" fill="#3d5c9a">DAPI</text>
<rect x="0.5" y="0.5" width="519" height="393" fill="none" stroke="#000" stroke-width="1.2"/>
</svg>
</body></html>
